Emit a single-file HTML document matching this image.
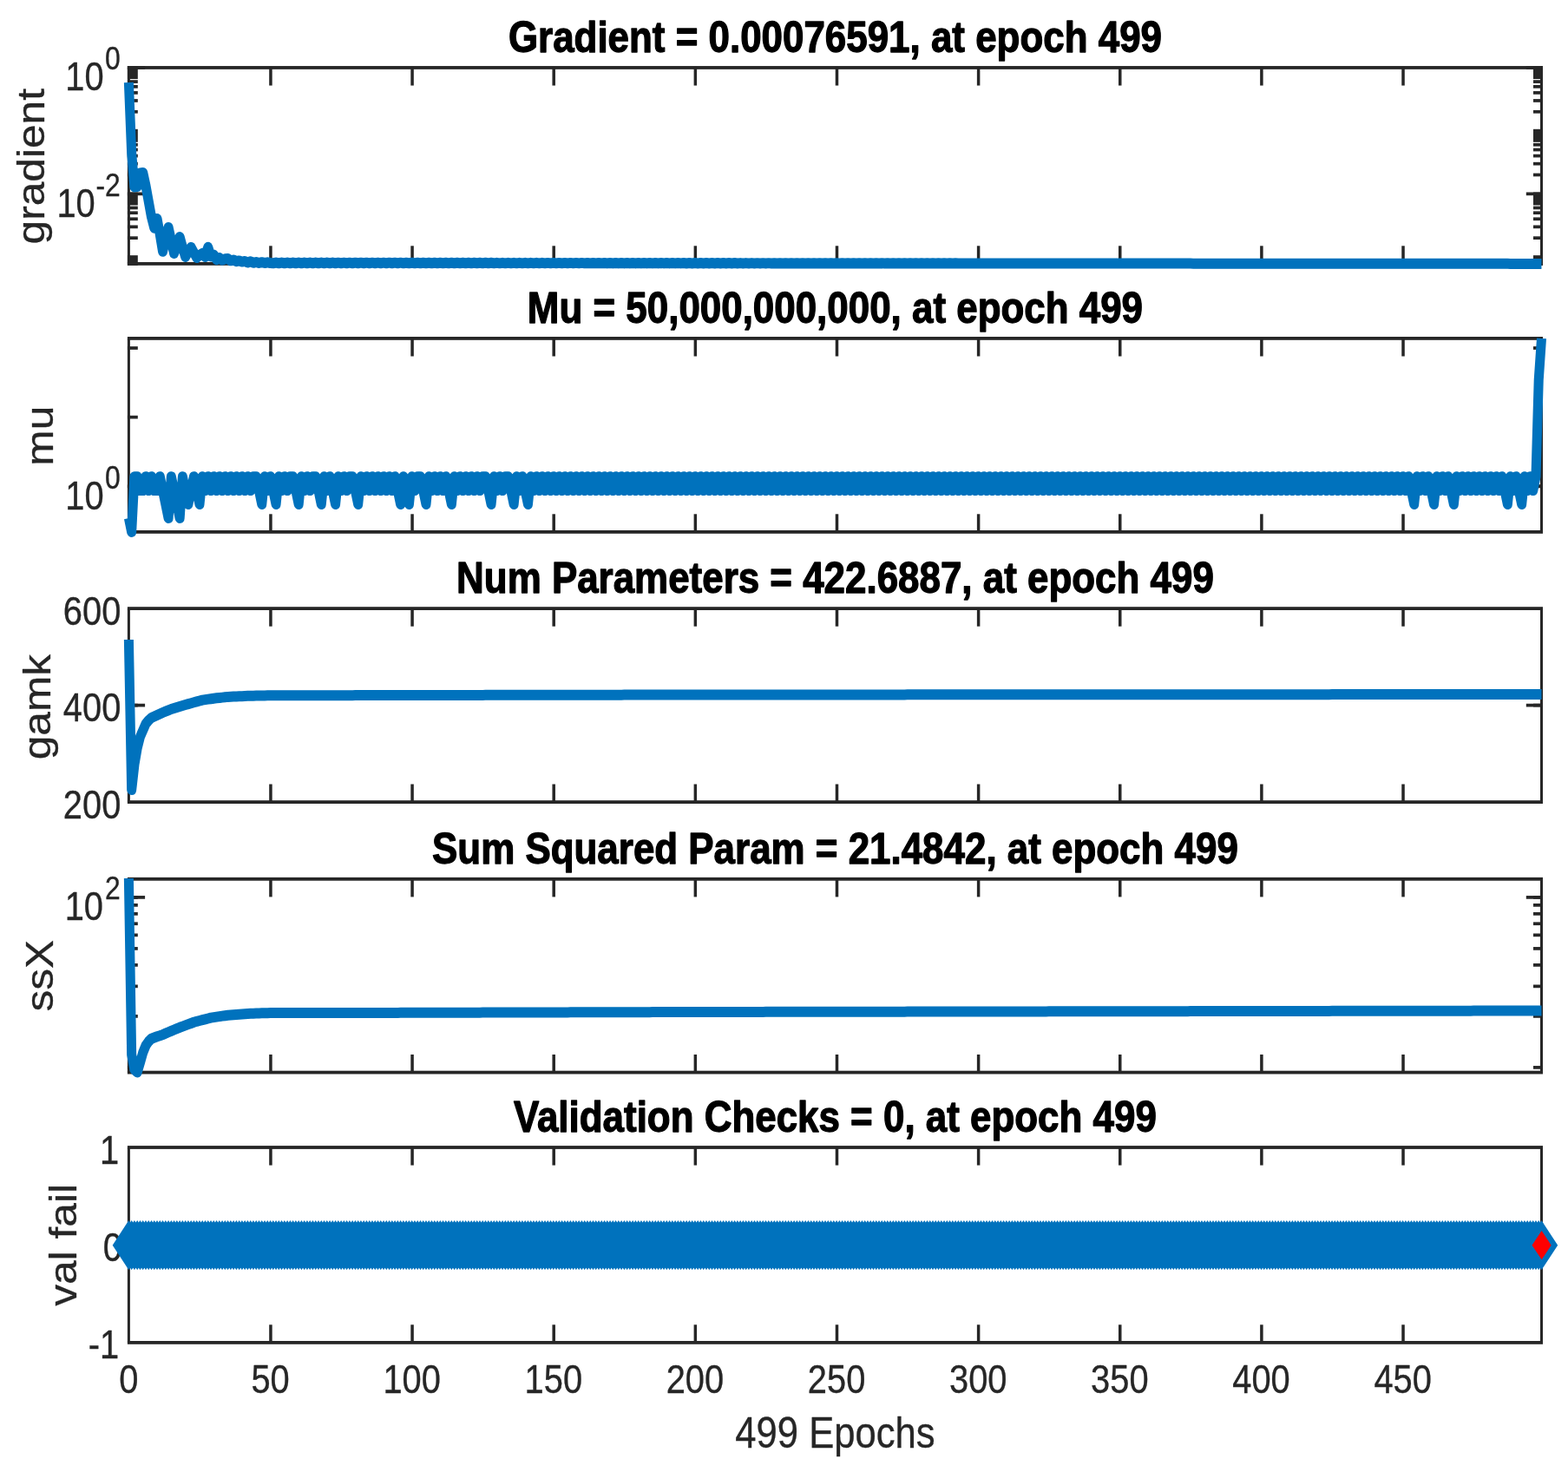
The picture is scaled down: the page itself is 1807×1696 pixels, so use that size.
<!DOCTYPE html>
<html lang="en">
<head>
<meta charset="utf-8">
<title>Training State</title>
<style>
html,body{margin:0;padding:0;background:#fff;}
body{width:1807px;height:1696px;overflow:hidden;font-family:"Liberation Sans",Arial,Helvetica,sans-serif;}
svg{display:block;}
</style>
</head>
<body>
<svg width="1807" height="1696" viewBox="0 0 1807 1696" font-family="'Liberation Sans', Arial, Helvetica, sans-serif">
<rect width="1807" height="1696" fill="#fff"/>
<rect x="146.90" y="76.05" width="1631.10" height="3.80" fill="#262626"/>
<rect x="146.90" y="302.00" width="1631.10" height="3.80" fill="#262626"/>
<rect x="146.90" y="77.95" width="3.00" height="225.95" fill="#262626"/>
<rect x="1775.00" y="77.95" width="3.00" height="225.95" fill="#262626"/>
<rect x="310.19" y="77.95" width="3.50" height="20.60" fill="#262626"/>
<rect x="310.19" y="283.30" width="3.50" height="20.60" fill="#262626"/>
<rect x="473.32" y="77.95" width="3.50" height="20.60" fill="#262626"/>
<rect x="473.32" y="283.30" width="3.50" height="20.60" fill="#262626"/>
<rect x="636.46" y="77.95" width="3.50" height="20.60" fill="#262626"/>
<rect x="636.46" y="283.30" width="3.50" height="20.60" fill="#262626"/>
<rect x="799.60" y="77.95" width="3.50" height="20.60" fill="#262626"/>
<rect x="799.60" y="283.30" width="3.50" height="20.60" fill="#262626"/>
<rect x="962.73" y="77.95" width="3.50" height="20.60" fill="#262626"/>
<rect x="962.73" y="283.30" width="3.50" height="20.60" fill="#262626"/>
<rect x="1125.87" y="77.95" width="3.50" height="20.60" fill="#262626"/>
<rect x="1125.87" y="283.30" width="3.50" height="20.60" fill="#262626"/>
<rect x="1289.00" y="77.95" width="3.50" height="20.60" fill="#262626"/>
<rect x="1289.00" y="283.30" width="3.50" height="20.60" fill="#262626"/>
<rect x="1452.14" y="77.95" width="3.50" height="20.60" fill="#262626"/>
<rect x="1452.14" y="283.30" width="3.50" height="20.60" fill="#262626"/>
<rect x="1615.28" y="77.95" width="3.50" height="20.60" fill="#262626"/>
<rect x="1615.28" y="283.30" width="3.50" height="20.60" fill="#262626"/>
<rect x="146.90" y="76.05" width="11.90" height="15.01" fill="#262626"/>
<rect x="1767.00" y="76.05" width="11.00" height="15.01" fill="#262626"/>
<rect x="146.90" y="92.23" width="11.90" height="3.70" fill="#262626"/>
<rect x="1767.00" y="92.23" width="11.00" height="3.70" fill="#262626"/>
<rect x="146.90" y="97.98" width="11.90" height="3.70" fill="#262626"/>
<rect x="1767.00" y="97.98" width="11.00" height="3.70" fill="#262626"/>
<rect x="146.90" y="105.03" width="11.90" height="3.70" fill="#262626"/>
<rect x="1767.00" y="105.03" width="11.00" height="3.70" fill="#262626"/>
<rect x="146.90" y="114.11" width="11.90" height="3.70" fill="#262626"/>
<rect x="1767.00" y="114.11" width="11.00" height="3.70" fill="#262626"/>
<rect x="146.90" y="126.92" width="11.90" height="3.70" fill="#262626"/>
<rect x="1767.00" y="126.92" width="11.00" height="3.70" fill="#262626"/>
<rect x="146.90" y="148.80" width="11.90" height="14.96" fill="#262626"/>
<rect x="1767.00" y="148.80" width="11.00" height="14.96" fill="#262626"/>
<rect x="146.90" y="164.93" width="11.90" height="3.70" fill="#262626"/>
<rect x="1767.00" y="164.93" width="11.00" height="3.70" fill="#262626"/>
<rect x="146.90" y="170.68" width="11.90" height="3.70" fill="#262626"/>
<rect x="1767.00" y="170.68" width="11.00" height="3.70" fill="#262626"/>
<rect x="146.90" y="177.73" width="11.90" height="3.70" fill="#262626"/>
<rect x="1767.00" y="177.73" width="11.00" height="3.70" fill="#262626"/>
<rect x="146.90" y="186.81" width="11.90" height="3.70" fill="#262626"/>
<rect x="1767.00" y="186.81" width="11.00" height="3.70" fill="#262626"/>
<rect x="146.90" y="199.62" width="11.90" height="3.70" fill="#262626"/>
<rect x="1767.00" y="199.62" width="11.00" height="3.70" fill="#262626"/>
<rect x="146.90" y="221.50" width="11.90" height="14.96" fill="#262626"/>
<rect x="1767.00" y="221.50" width="11.00" height="14.96" fill="#262626"/>
<rect x="146.90" y="237.63" width="11.90" height="3.70" fill="#262626"/>
<rect x="1767.00" y="237.63" width="11.00" height="3.70" fill="#262626"/>
<rect x="146.90" y="243.38" width="11.90" height="3.70" fill="#262626"/>
<rect x="1767.00" y="243.38" width="11.00" height="3.70" fill="#262626"/>
<rect x="146.90" y="250.43" width="11.90" height="3.70" fill="#262626"/>
<rect x="1767.00" y="250.43" width="11.00" height="3.70" fill="#262626"/>
<rect x="146.90" y="259.51" width="11.90" height="3.70" fill="#262626"/>
<rect x="1767.00" y="259.51" width="11.00" height="3.70" fill="#262626"/>
<rect x="146.90" y="272.32" width="11.90" height="3.70" fill="#262626"/>
<rect x="1767.00" y="272.32" width="11.00" height="3.70" fill="#262626"/>
<rect x="146.90" y="294.20" width="11.90" height="11.60" fill="#262626"/>
<rect x="1767.00" y="294.20" width="11.00" height="11.60" fill="#262626"/>
<rect x="146.90" y="76.10" width="20.20" height="3.70" fill="#262626"/>
<rect x="1758.80" y="76.10" width="19.20" height="3.70" fill="#262626"/>
<rect x="146.90" y="221.50" width="20.20" height="3.70" fill="#262626"/>
<rect x="1758.80" y="221.50" width="19.20" height="3.70" fill="#262626"/>
<text transform="translate(138.80 103.75) scale(0.8605 1)" font-size="46.3" text-anchor="end" fill="#262626" stroke="#262626" stroke-width="0.35" stroke-linejoin="round">10<tspan font-size="37" dx="1.73" dy="-23.6">0</tspan></text>
<text transform="translate(138.80 249.75) scale(0.8605 1)" font-size="46.3" text-anchor="end" fill="#262626" stroke="#262626" stroke-width="0.35" stroke-linejoin="round">10<tspan font-size="37" dx="0.92" dy="-23.6">-2</tspan></text>
<text transform="translate(51.20 191.72) scale(0.8780 1) rotate(-90)" font-size="49.7" text-anchor="middle" fill="#262626" stroke="#262626" stroke-width="0.35" stroke-linejoin="round">gradient</text>
<text transform="translate(962.45 59.85) scale(0.8875 1)" font-size="49.5" text-anchor="middle" font-weight="bold" fill="#000" stroke="#000" stroke-width="1.3" stroke-linejoin="round">Gradient = 0.00076591, at epoch 499</text>
<rect x="146.90" y="388.00" width="1631.10" height="3.80" fill="#262626"/>
<rect x="146.90" y="611.00" width="1631.10" height="3.80" fill="#262626"/>
<rect x="146.90" y="389.90" width="3.00" height="223.00" fill="#262626"/>
<rect x="1775.00" y="389.90" width="3.00" height="223.00" fill="#262626"/>
<rect x="310.19" y="389.90" width="3.50" height="20.60" fill="#262626"/>
<rect x="310.19" y="592.30" width="3.50" height="20.60" fill="#262626"/>
<rect x="473.32" y="389.90" width="3.50" height="20.60" fill="#262626"/>
<rect x="473.32" y="592.30" width="3.50" height="20.60" fill="#262626"/>
<rect x="636.46" y="389.90" width="3.50" height="20.60" fill="#262626"/>
<rect x="636.46" y="592.30" width="3.50" height="20.60" fill="#262626"/>
<rect x="799.60" y="389.90" width="3.50" height="20.60" fill="#262626"/>
<rect x="799.60" y="592.30" width="3.50" height="20.60" fill="#262626"/>
<rect x="962.73" y="389.90" width="3.50" height="20.60" fill="#262626"/>
<rect x="962.73" y="592.30" width="3.50" height="20.60" fill="#262626"/>
<rect x="1125.87" y="389.90" width="3.50" height="20.60" fill="#262626"/>
<rect x="1125.87" y="592.30" width="3.50" height="20.60" fill="#262626"/>
<rect x="1289.00" y="389.90" width="3.50" height="20.60" fill="#262626"/>
<rect x="1289.00" y="592.30" width="3.50" height="20.60" fill="#262626"/>
<rect x="1452.14" y="389.90" width="3.50" height="20.60" fill="#262626"/>
<rect x="1452.14" y="592.30" width="3.50" height="20.60" fill="#262626"/>
<rect x="1615.28" y="389.90" width="3.50" height="20.60" fill="#262626"/>
<rect x="1615.28" y="592.30" width="3.50" height="20.60" fill="#262626"/>
<rect x="146.90" y="399.15" width="11.90" height="3.70" fill="#262626"/>
<rect x="1767.00" y="399.15" width="11.00" height="3.70" fill="#262626"/>
<rect x="146.90" y="478.80" width="11.90" height="3.70" fill="#262626"/>
<rect x="1767.00" y="478.80" width="11.00" height="3.70" fill="#262626"/>
<rect x="146.90" y="558.45" width="11.90" height="3.70" fill="#262626"/>
<rect x="1767.00" y="558.45" width="11.00" height="3.70" fill="#262626"/>
<rect x="146.90" y="558.45" width="20.20" height="3.70" fill="#262626"/>
<rect x="1758.80" y="558.45" width="19.20" height="3.70" fill="#262626"/>
<text transform="translate(138.80 586.90) scale(0.8605 1)" font-size="46.3" text-anchor="end" fill="#262626" stroke="#262626" stroke-width="0.35" stroke-linejoin="round">10<tspan font-size="37" dx="1.73" dy="-23.6">0</tspan></text>
<text transform="translate(61.00 502.20) scale(0.8780 1) rotate(-90)" font-size="49.7" text-anchor="middle" fill="#262626" stroke="#262626" stroke-width="0.35" stroke-linejoin="round">mu</text>
<text transform="translate(962.45 371.80) scale(0.8875 1)" font-size="49.5" text-anchor="middle" font-weight="bold" fill="#000" stroke="#000" stroke-width="1.3" stroke-linejoin="round">Mu = 50,000,000,000, at epoch 499</text>
<rect x="146.90" y="699.20" width="1631.10" height="3.80" fill="#262626"/>
<rect x="146.90" y="922.20" width="1631.10" height="3.80" fill="#262626"/>
<rect x="146.90" y="701.10" width="3.00" height="223.00" fill="#262626"/>
<rect x="1775.00" y="701.10" width="3.00" height="223.00" fill="#262626"/>
<rect x="310.19" y="701.10" width="3.50" height="20.60" fill="#262626"/>
<rect x="310.19" y="903.50" width="3.50" height="20.60" fill="#262626"/>
<rect x="473.32" y="701.10" width="3.50" height="20.60" fill="#262626"/>
<rect x="473.32" y="903.50" width="3.50" height="20.60" fill="#262626"/>
<rect x="636.46" y="701.10" width="3.50" height="20.60" fill="#262626"/>
<rect x="636.46" y="903.50" width="3.50" height="20.60" fill="#262626"/>
<rect x="799.60" y="701.10" width="3.50" height="20.60" fill="#262626"/>
<rect x="799.60" y="903.50" width="3.50" height="20.60" fill="#262626"/>
<rect x="962.73" y="701.10" width="3.50" height="20.60" fill="#262626"/>
<rect x="962.73" y="903.50" width="3.50" height="20.60" fill="#262626"/>
<rect x="1125.87" y="701.10" width="3.50" height="20.60" fill="#262626"/>
<rect x="1125.87" y="903.50" width="3.50" height="20.60" fill="#262626"/>
<rect x="1289.00" y="701.10" width="3.50" height="20.60" fill="#262626"/>
<rect x="1289.00" y="903.50" width="3.50" height="20.60" fill="#262626"/>
<rect x="1452.14" y="701.10" width="3.50" height="20.60" fill="#262626"/>
<rect x="1452.14" y="903.50" width="3.50" height="20.60" fill="#262626"/>
<rect x="1615.28" y="701.10" width="3.50" height="20.60" fill="#262626"/>
<rect x="1615.28" y="903.50" width="3.50" height="20.60" fill="#262626"/>
<rect x="146.90" y="810.75" width="11.90" height="3.70" fill="#262626"/>
<rect x="1767.00" y="810.75" width="11.00" height="3.70" fill="#262626"/>
<rect x="146.90" y="810.75" width="20.20" height="3.70" fill="#262626"/>
<rect x="1758.80" y="810.75" width="19.20" height="3.70" fill="#262626"/>
<text transform="translate(139.30 719.60) scale(0.8605 1)" font-size="46.3" text-anchor="end" fill="#262626" stroke="#262626" stroke-width="0.35" stroke-linejoin="round">600</text>
<text transform="translate(139.30 831.10) scale(0.8605 1)" font-size="46.3" text-anchor="end" fill="#262626" stroke="#262626" stroke-width="0.35" stroke-linejoin="round">400</text>
<text transform="translate(139.30 942.60) scale(0.8605 1)" font-size="46.3" text-anchor="end" fill="#262626" stroke="#262626" stroke-width="0.35" stroke-linejoin="round">200</text>
<text transform="translate(58.00 814.60) scale(0.8780 1) rotate(-90)" font-size="49.7" text-anchor="middle" fill="#262626" stroke="#262626" stroke-width="0.35" stroke-linejoin="round">gamk</text>
<text transform="translate(962.45 683.00) scale(0.8875 1)" font-size="49.5" text-anchor="middle" font-weight="bold" fill="#000" stroke="#000" stroke-width="1.3" stroke-linejoin="round">Num Parameters = 422.6887, at epoch 499</text>
<rect x="146.90" y="1010.90" width="1631.10" height="3.80" fill="#262626"/>
<rect x="146.90" y="1233.70" width="1631.10" height="3.80" fill="#262626"/>
<rect x="146.90" y="1012.80" width="3.00" height="222.80" fill="#262626"/>
<rect x="1775.00" y="1012.80" width="3.00" height="222.80" fill="#262626"/>
<rect x="310.19" y="1012.80" width="3.50" height="20.60" fill="#262626"/>
<rect x="310.19" y="1215.00" width="3.50" height="20.60" fill="#262626"/>
<rect x="473.32" y="1012.80" width="3.50" height="20.60" fill="#262626"/>
<rect x="473.32" y="1215.00" width="3.50" height="20.60" fill="#262626"/>
<rect x="636.46" y="1012.80" width="3.50" height="20.60" fill="#262626"/>
<rect x="636.46" y="1215.00" width="3.50" height="20.60" fill="#262626"/>
<rect x="799.60" y="1012.80" width="3.50" height="20.60" fill="#262626"/>
<rect x="799.60" y="1215.00" width="3.50" height="20.60" fill="#262626"/>
<rect x="962.73" y="1012.80" width="3.50" height="20.60" fill="#262626"/>
<rect x="962.73" y="1215.00" width="3.50" height="20.60" fill="#262626"/>
<rect x="1125.87" y="1012.80" width="3.50" height="20.60" fill="#262626"/>
<rect x="1125.87" y="1215.00" width="3.50" height="20.60" fill="#262626"/>
<rect x="1289.00" y="1012.80" width="3.50" height="20.60" fill="#262626"/>
<rect x="1289.00" y="1215.00" width="3.50" height="20.60" fill="#262626"/>
<rect x="1452.14" y="1012.80" width="3.50" height="20.60" fill="#262626"/>
<rect x="1452.14" y="1215.00" width="3.50" height="20.60" fill="#262626"/>
<rect x="1615.28" y="1012.80" width="3.50" height="20.60" fill="#262626"/>
<rect x="1615.28" y="1215.00" width="3.50" height="20.60" fill="#262626"/>
<rect x="146.90" y="1032.05" width="11.90" height="3.70" fill="#262626"/>
<rect x="1767.00" y="1032.05" width="11.00" height="3.70" fill="#262626"/>
<rect x="146.90" y="1041.02" width="11.90" height="3.70" fill="#262626"/>
<rect x="1767.00" y="1041.02" width="11.00" height="3.70" fill="#262626"/>
<rect x="146.90" y="1051.04" width="11.90" height="3.70" fill="#262626"/>
<rect x="1767.00" y="1051.04" width="11.00" height="3.70" fill="#262626"/>
<rect x="146.90" y="1062.41" width="11.90" height="3.70" fill="#262626"/>
<rect x="1767.00" y="1062.41" width="11.00" height="3.70" fill="#262626"/>
<rect x="146.90" y="1075.53" width="11.90" height="3.70" fill="#262626"/>
<rect x="1767.00" y="1075.53" width="11.00" height="3.70" fill="#262626"/>
<rect x="146.90" y="1091.05" width="11.90" height="3.70" fill="#262626"/>
<rect x="1767.00" y="1091.05" width="11.00" height="3.70" fill="#262626"/>
<rect x="146.90" y="1110.05" width="11.90" height="3.70" fill="#262626"/>
<rect x="1767.00" y="1110.05" width="11.00" height="3.70" fill="#262626"/>
<rect x="146.90" y="1134.53" width="11.90" height="3.70" fill="#262626"/>
<rect x="1767.00" y="1134.53" width="11.00" height="3.70" fill="#262626"/>
<rect x="146.90" y="1169.05" width="11.90" height="3.70" fill="#262626"/>
<rect x="1767.00" y="1169.05" width="11.00" height="3.70" fill="#262626"/>
<rect x="146.90" y="1228.05" width="11.90" height="3.70" fill="#262626"/>
<rect x="1767.00" y="1228.05" width="11.00" height="3.70" fill="#262626"/>
<rect x="146.90" y="1032.05" width="20.20" height="3.70" fill="#262626"/>
<rect x="1758.80" y="1032.05" width="19.20" height="3.70" fill="#262626"/>
<text transform="translate(138.80 1059.70) scale(0.8605 1)" font-size="46.3" text-anchor="end" fill="#262626" stroke="#262626" stroke-width="0.35" stroke-linejoin="round">10<tspan font-size="37" dx="2.43" dy="-23.6">2</tspan></text>
<text transform="translate(60.80 1124.20) scale(0.8780 1) rotate(-90)" font-size="49.7" text-anchor="middle" fill="#262626" stroke="#262626" stroke-width="0.35" stroke-linejoin="round">ssX</text>
<text transform="translate(962.45 994.70) scale(0.8875 1)" font-size="49.5" text-anchor="middle" font-weight="bold" fill="#000" stroke="#000" stroke-width="1.3" stroke-linejoin="round">Sum Squared Param = 21.4842, at epoch 499</text>
<rect x="146.90" y="1320.10" width="1631.10" height="3.80" fill="#262626"/>
<rect x="146.90" y="1545.00" width="1631.10" height="3.80" fill="#262626"/>
<rect x="146.90" y="1322.00" width="3.00" height="224.90" fill="#262626"/>
<rect x="1775.00" y="1322.00" width="3.00" height="224.90" fill="#262626"/>
<rect x="310.19" y="1322.00" width="3.50" height="20.60" fill="#262626"/>
<rect x="310.19" y="1526.30" width="3.50" height="20.60" fill="#262626"/>
<rect x="473.32" y="1322.00" width="3.50" height="20.60" fill="#262626"/>
<rect x="473.32" y="1526.30" width="3.50" height="20.60" fill="#262626"/>
<rect x="636.46" y="1322.00" width="3.50" height="20.60" fill="#262626"/>
<rect x="636.46" y="1526.30" width="3.50" height="20.60" fill="#262626"/>
<rect x="799.60" y="1322.00" width="3.50" height="20.60" fill="#262626"/>
<rect x="799.60" y="1526.30" width="3.50" height="20.60" fill="#262626"/>
<rect x="962.73" y="1322.00" width="3.50" height="20.60" fill="#262626"/>
<rect x="962.73" y="1526.30" width="3.50" height="20.60" fill="#262626"/>
<rect x="1125.87" y="1322.00" width="3.50" height="20.60" fill="#262626"/>
<rect x="1125.87" y="1526.30" width="3.50" height="20.60" fill="#262626"/>
<rect x="1289.00" y="1322.00" width="3.50" height="20.60" fill="#262626"/>
<rect x="1289.00" y="1526.30" width="3.50" height="20.60" fill="#262626"/>
<rect x="1452.14" y="1322.00" width="3.50" height="20.60" fill="#262626"/>
<rect x="1452.14" y="1526.30" width="3.50" height="20.60" fill="#262626"/>
<rect x="1615.28" y="1322.00" width="3.50" height="20.60" fill="#262626"/>
<rect x="1615.28" y="1526.30" width="3.50" height="20.60" fill="#262626"/>
<rect x="146.90" y="1432.60" width="11.90" height="3.70" fill="#262626"/>
<rect x="1767.00" y="1432.60" width="11.00" height="3.70" fill="#262626"/>
<rect x="146.90" y="1432.60" width="20.20" height="3.70" fill="#262626"/>
<rect x="1758.80" y="1432.60" width="19.20" height="3.70" fill="#262626"/>
<text transform="translate(137.10 1340.50) scale(0.8605 1)" font-size="46.3" text-anchor="end" fill="#262626" stroke="#262626" stroke-width="0.35" stroke-linejoin="round">1</text>
<text transform="translate(140.80 1452.95) scale(0.8605 1)" font-size="46.3" text-anchor="end" fill="#262626" stroke="#262626" stroke-width="0.35" stroke-linejoin="round">0</text>
<text transform="translate(137.10 1565.40) scale(0.8605 1)" font-size="46.3" text-anchor="end" fill="#262626" stroke="#262626" stroke-width="0.35" stroke-linejoin="round">-1</text>
<text transform="translate(88.00 1434.45) scale(0.8780 1) rotate(-90)" font-size="49.7" text-anchor="middle" fill="#262626" stroke="#262626" stroke-width="0.35" stroke-linejoin="round">val fail</text>
<text transform="translate(962.45 1303.90) scale(0.8875 1)" font-size="49.5" text-anchor="middle" font-weight="bold" fill="#000" stroke="#000" stroke-width="1.3" stroke-linejoin="round">Validation Checks = 0, at epoch 499</text>
<text transform="translate(148.40 1605.00) scale(0.8605 1)" font-size="46.3" text-anchor="middle" fill="#262626" stroke="#262626" stroke-width="0.35" stroke-linejoin="round">0</text>
<text transform="translate(311.54 1605.00) scale(0.8605 1)" font-size="46.3" text-anchor="middle" fill="#262626" stroke="#262626" stroke-width="0.35" stroke-linejoin="round">50</text>
<text transform="translate(474.67 1605.00) scale(0.8605 1)" font-size="46.3" text-anchor="middle" fill="#262626" stroke="#262626" stroke-width="0.35" stroke-linejoin="round">100</text>
<text transform="translate(637.81 1605.00) scale(0.8605 1)" font-size="46.3" text-anchor="middle" fill="#262626" stroke="#262626" stroke-width="0.35" stroke-linejoin="round">150</text>
<text transform="translate(800.95 1605.00) scale(0.8605 1)" font-size="46.3" text-anchor="middle" fill="#262626" stroke="#262626" stroke-width="0.35" stroke-linejoin="round">200</text>
<text transform="translate(964.08 1605.00) scale(0.8605 1)" font-size="46.3" text-anchor="middle" fill="#262626" stroke="#262626" stroke-width="0.35" stroke-linejoin="round">250</text>
<text transform="translate(1127.22 1605.00) scale(0.8605 1)" font-size="46.3" text-anchor="middle" fill="#262626" stroke="#262626" stroke-width="0.35" stroke-linejoin="round">300</text>
<text transform="translate(1290.35 1605.00) scale(0.8605 1)" font-size="46.3" text-anchor="middle" fill="#262626" stroke="#262626" stroke-width="0.35" stroke-linejoin="round">350</text>
<text transform="translate(1453.49 1605.00) scale(0.8605 1)" font-size="46.3" text-anchor="middle" fill="#262626" stroke="#262626" stroke-width="0.35" stroke-linejoin="round">400</text>
<text transform="translate(1616.63 1605.00) scale(0.8605 1)" font-size="46.3" text-anchor="middle" fill="#262626" stroke="#262626" stroke-width="0.35" stroke-linejoin="round">450</text>
<text transform="translate(962.45 1667.60) scale(0.8780 1)" font-size="49.7" text-anchor="middle" fill="#262626" stroke="#262626" stroke-width="0.35" stroke-linejoin="round">499 Epochs</text>
<g transform="scale(0.92 1)"><path d="M161.30,95.00 L164.85,176.50 L168.40,215.40 L171.94,215.00 L175.49,199.50 L179.04,199.00 L182.58,214.00 L186.13,232.00 L189.68,250.00 L193.22,262.70 L196.77,252.00 L200.32,270.00 L203.86,289.80 L207.41,276.00 L210.95,262.00 L214.50,277.00 L218.05,292.00 L221.59,282.00 L225.14,273.00 L228.69,285.00 L232.23,296.00 L235.78,290.00 L239.33,285.00 L242.87,291.00 L246.42,297.00 L249.97,294.00 L253.51,292.00 L257.06,296.00 L260.60,284.80 L264.15,295.50 L267.70,293.50 L271.24,299.20 L274.79,297.00 L278.34,299.60 L281.88,298.30 L285.43,298.10 L288.98,300.30 L292.52,299.50 L296.07,301.20 L299.62,300.40 L303.16,301.60 L306.71,301.00 L310.25,302.40 L313.80,301.30 L317.35,302.80 L320.89,302.00 L324.44,303.00 L327.99,302.20 L331.53,303.00 L335.08,302.30 L338.63,303.00 L342.17,303.25 L345.72,302.55 L349.27,303.25 L352.81,302.56 L356.36,303.25 L359.91,302.57 L363.45,303.26 L367.00,302.57 L370.54,303.26 L374.09,302.58 L377.64,303.26 L381.18,302.59 L384.73,303.26 L388.28,302.59 L391.82,303.26 L395.37,302.60 L398.92,303.27 L402.46,302.61 L406.01,303.27 L409.56,302.61 L413.10,303.27 L416.65,302.62 L420.19,303.27 L423.74,302.63 L427.29,303.28 L430.83,302.63 L434.38,303.28 L437.93,302.64 L441.47,303.28 L445.02,302.65 L448.57,303.28 L452.11,302.66 L455.66,303.28 L459.21,302.66 L462.75,303.29 L466.30,302.67 L469.84,303.29 L473.39,302.68 L476.94,303.29 L480.48,302.68 L484.03,303.29 L487.58,302.69 L491.12,303.29 L494.67,302.70 L498.22,303.30 L501.76,302.70 L505.31,303.30 L508.86,302.71 L512.40,303.30 L515.95,302.72 L519.49,303.30 L523.04,302.72 L526.59,303.31 L530.13,302.73 L533.68,303.31 L537.23,302.74 L540.77,303.31 L544.32,302.74 L547.87,303.31 L551.41,302.75 L554.96,303.31 L558.51,302.76 L562.05,303.32 L565.60,302.76 L569.15,303.32 L572.69,302.77 L576.24,303.32 L579.78,302.78 L583.33,303.32 L586.88,302.78 L590.42,303.32 L593.97,302.79 L597.52,303.33 L601.06,302.80 L604.61,303.33 L608.16,302.80 L611.70,303.33 L615.25,302.81 L618.80,303.33 L622.34,302.82 L625.89,303.34 L629.43,302.83 L632.98,303.34 L636.53,302.83 L640.07,303.34 L643.62,302.84 L647.17,303.34 L650.71,302.85 L654.26,303.34 L657.81,302.85 L661.35,303.35 L664.90,302.86 L668.45,303.35 L671.99,302.87 L675.54,303.35 L679.08,302.87 L682.63,303.35 L686.18,302.88 L689.72,303.35 L693.27,302.89 L696.82,303.36 L700.36,302.89 L703.91,303.36 L707.46,302.90 L711.00,303.36 L714.55,302.91 L718.10,303.36 L721.64,302.91 L725.19,303.37 L728.73,302.92 L732.28,303.37 L735.83,302.93 L739.37,303.37 L742.92,302.93 L746.47,303.37 L750.01,302.94 L753.56,303.37 L757.11,302.95 L760.65,303.38 L764.20,302.95 L767.75,303.38 L771.29,302.96 L774.84,303.38 L778.39,302.97 L781.93,303.38 L785.48,302.97 L789.02,303.38 L792.57,302.98 L796.12,303.39 L799.66,302.99 L803.21,303.39 L806.76,303.00 L810.30,303.39 L813.85,303.00 L817.40,303.39 L820.94,303.01 L824.49,303.39 L828.04,303.02 L831.58,303.40 L835.13,303.02 L838.67,303.40 L842.22,303.03 L845.77,303.40 L849.31,303.04 L852.86,303.40 L856.41,303.04 L859.95,303.41 L863.50,303.05 L867.05,303.41 L870.59,303.06 L874.14,303.41 L877.69,303.06 L881.23,303.41 L884.78,303.07 L888.32,303.41 L891.87,303.08 L895.42,303.42 L898.96,303.08 L902.51,303.42 L906.06,303.09 L909.60,303.42 L913.15,303.10 L916.70,303.42 L920.24,303.10 L923.79,303.42 L927.34,303.11 L930.88,303.43 L934.43,303.12 L937.97,303.43 L941.52,303.12 L945.07,303.43 L948.61,303.13 L952.16,303.43 L955.71,303.14 L959.25,303.44 L962.80,303.14 L966.35,303.44 L969.89,303.15 L973.44,303.44 L976.99,303.16 L980.53,303.44 L984.08,303.17 L987.63,303.44 L991.17,303.17 L994.72,303.45 L998.26,303.18 L1001.81,303.45 L1005.36,303.19 L1008.90,303.45 L1012.45,303.19 L1016.00,303.45 L1019.54,303.20 L1023.09,303.45 L1026.64,303.21 L1030.18,303.46 L1033.73,303.21 L1037.28,303.46 L1040.82,303.22 L1044.37,303.46 L1047.91,303.23 L1051.46,303.46 L1055.01,303.23 L1058.55,303.47 L1062.10,303.24 L1065.65,303.47 L1069.19,303.25 L1072.74,303.47 L1076.29,303.25 L1079.83,303.47 L1083.38,303.26 L1086.93,303.47 L1090.47,303.27 L1094.02,303.48 L1097.56,303.27 L1101.11,303.48 L1104.66,303.28 L1108.20,303.48 L1111.75,303.29 L1115.30,303.48 L1118.84,303.29 L1122.39,303.48 L1125.94,303.30 L1129.48,303.49 L1133.03,303.31 L1136.58,303.49 L1140.12,303.31 L1143.67,303.49 L1147.21,303.32 L1150.76,303.49 L1154.31,303.33 L1157.85,303.50 L1161.40,303.34 L1164.95,303.50 L1168.49,303.34 L1172.04,303.50 L1175.59,303.35 L1179.13,303.50 L1182.68,303.36 L1186.23,303.50 L1189.77,303.36 L1193.32,303.51 L1196.87,303.37 L1200.41,303.51 L1203.96,303.38 L1207.50,303.51 L1211.05,303.38 L1214.60,303.51 L1218.14,303.39 L1221.69,303.51 L1225.24,303.40 L1228.78,303.52 L1232.33,303.40 L1235.88,303.52 L1239.42,303.41 L1242.97,303.52 L1246.52,303.42 L1250.06,303.52 L1253.61,303.42 L1257.15,303.52 L1260.70,303.43 L1264.25,303.53 L1267.79,303.44 L1271.34,303.53 L1274.89,303.44 L1278.43,303.53 L1281.98,303.45 L1285.53,303.53 L1289.07,303.46 L1292.62,303.54 L1296.17,303.46 L1299.71,303.54 L1303.26,303.47 L1306.80,303.54 L1310.35,303.48 L1313.90,303.54 L1317.44,303.48 L1320.99,303.54 L1324.54,303.49 L1328.08,303.55 L1331.63,303.50 L1335.18,303.55 L1338.72,303.51 L1342.27,303.55 L1345.82,303.51 L1349.36,303.55 L1352.91,303.52 L1356.45,303.55 L1360.00,303.53 L1363.55,303.56 L1367.09,303.53 L1370.64,303.56 L1374.19,303.54 L1377.73,303.56 L1381.28,303.55 L1384.83,303.56 L1388.37,303.55 L1391.92,303.57 L1395.47,303.56 L1399.01,303.57 L1402.56,303.57 L1406.11,303.57 L1409.65,303.57 L1413.20,303.57 L1416.74,303.58 L1420.29,303.58 L1423.84,303.58 L1427.38,303.58 L1430.93,303.59 L1434.48,303.59 L1438.02,303.59 L1441.57,303.59 L1445.12,303.59 L1448.66,303.60 L1452.21,303.60 L1455.76,303.60 L1459.30,303.60 L1462.85,303.61 L1466.39,303.61 L1469.94,303.61 L1473.49,303.61 L1477.03,303.61 L1480.58,303.62 L1484.13,303.62 L1487.67,303.62 L1491.22,303.62 L1494.77,303.63 L1498.31,303.63 L1501.86,303.63 L1505.41,303.63 L1508.95,303.63 L1512.50,303.64 L1516.04,303.64 L1519.59,303.64 L1523.14,303.64 L1526.68,303.65 L1530.23,303.65 L1533.78,303.65 L1537.32,303.65 L1540.87,303.65 L1544.42,303.66 L1547.96,303.66 L1551.51,303.66 L1555.06,303.66 L1558.60,303.67 L1562.15,303.67 L1565.69,303.67 L1569.24,303.67 L1572.79,303.67 L1576.33,303.68 L1579.88,303.68 L1583.43,303.68 L1586.97,303.68 L1590.52,303.69 L1594.07,303.69 L1597.61,303.69 L1601.16,303.69 L1604.71,303.69 L1608.25,303.70 L1611.80,303.70 L1615.35,303.70 L1618.89,303.70 L1622.44,303.71 L1625.98,303.71 L1629.53,303.71 L1633.08,303.71 L1636.62,303.71 L1640.17,303.72 L1643.72,303.72 L1647.26,303.72 L1650.81,303.72 L1654.36,303.73 L1657.90,303.73 L1661.45,303.73 L1665.00,303.73 L1668.54,303.73 L1672.09,303.74 L1675.63,303.74 L1679.18,303.74 L1682.73,303.74 L1686.27,303.75 L1689.82,303.75 L1693.37,303.75 L1696.91,303.75 L1700.46,303.75 L1704.01,303.76 L1707.55,303.76 L1711.10,303.76 L1714.65,303.76 L1718.19,303.77 L1721.74,303.77 L1725.28,303.77 L1728.83,303.77 L1732.38,303.77 L1735.92,303.78 L1739.47,303.78 L1743.02,303.78 L1746.56,303.78 L1750.11,303.79 L1753.66,303.79 L1757.20,303.79 L1760.75,303.79 L1764.30,303.80 L1767.84,303.80 L1771.39,303.80 L1774.93,303.80 L1778.48,303.80 L1782.03,303.81 L1785.57,303.81 L1789.12,303.81 L1792.67,303.81 L1796.21,303.82 L1799.76,303.82 L1803.31,303.82 L1806.85,303.82 L1810.40,303.82 L1813.95,303.83 L1817.49,303.83 L1821.04,303.83 L1824.59,303.83 L1828.13,303.84 L1831.68,303.84 L1835.22,303.84 L1838.77,303.84 L1842.32,303.84 L1845.86,303.85 L1849.41,303.85 L1852.96,303.85 L1856.50,303.85 L1860.05,303.86 L1863.60,303.86 L1867.14,303.86 L1870.69,303.86 L1874.24,303.86 L1877.78,303.87 L1881.33,303.87 L1884.87,303.87 L1888.42,303.87 L1891.97,303.88 L1895.51,303.88 L1899.06,303.88 L1902.61,303.88 L1906.15,303.88 L1909.70,303.89 L1913.25,303.89 L1916.79,303.89 L1920.34,303.89 L1923.89,303.90 L1927.43,303.90 L1930.98,303.95" fill="none" stroke="#0072BD" stroke-width="12.0" stroke-linejoin="round" stroke-linecap="butt"/></g>
<g transform="scale(0.92 1)"><path d="M161.30,596.96 L164.85,612.89 L168.40,549.17 L171.94,549.17 L175.49,565.10 L179.04,565.10 L182.58,549.17 L186.13,565.10 L189.68,549.17 L193.22,565.10 L196.77,565.10 L200.32,549.17 L203.86,565.10 L207.41,581.03 L210.95,596.96 L214.50,549.17 L218.05,565.10 L221.59,581.03 L225.14,596.96 L228.69,549.17 L232.23,565.10 L235.78,581.03 L239.33,565.10 L242.87,549.17 L246.42,565.10 L249.97,581.03 L253.51,549.17 L257.06,565.10 L260.60,549.17 L264.15,565.10 L267.70,549.17 L271.24,565.10 L274.79,549.17 L278.34,565.10 L281.88,549.17 L285.43,565.10 L288.98,549.17 L292.52,565.10 L296.07,549.17 L299.62,565.10 L303.16,549.17 L306.71,565.10 L310.25,549.17 L313.80,565.10 L317.35,549.17 L320.89,549.17 L324.44,565.10 L327.99,581.03 L331.53,549.17 L335.08,565.10 L338.63,549.17 L342.17,565.10 L345.72,581.03 L349.27,549.17 L352.81,565.10 L356.36,549.17 L359.91,565.10 L363.45,549.17 L367.00,549.17 L370.54,565.10 L374.09,581.03 L377.64,549.17 L381.18,565.10 L384.73,549.17 L388.28,565.10 L391.82,549.17 L395.37,549.17 L398.92,565.10 L402.46,581.03 L406.01,549.17 L409.56,565.10 L413.10,549.17 L416.65,565.10 L420.19,581.03 L423.74,549.17 L427.29,565.10 L430.83,549.17 L434.38,565.10 L437.93,549.17 L441.47,549.17 L445.02,565.10 L448.57,581.03 L452.11,549.17 L455.66,565.10 L459.21,549.17 L462.75,565.10 L466.30,549.17 L469.84,565.10 L473.39,549.17 L476.94,565.10 L480.48,549.17 L484.03,565.10 L487.58,549.17 L491.12,565.10 L494.67,549.17 L498.22,565.10 L501.76,581.03 L505.31,549.17 L508.86,565.10 L512.40,581.03 L515.95,549.17 L519.49,565.10 L523.04,549.17 L526.59,549.17 L530.13,565.10 L533.68,581.03 L537.23,549.17 L540.77,565.10 L544.32,549.17 L547.87,565.10 L551.41,549.17 L554.96,565.10 L558.51,549.17 L562.05,565.10 L565.60,581.03 L569.15,549.17 L572.69,565.10 L576.24,549.17 L579.78,565.10 L583.33,549.17 L586.88,565.10 L590.42,549.17 L593.97,565.10 L597.52,549.17 L601.06,565.10 L604.61,549.17 L608.16,549.17 L611.70,565.10 L615.25,581.03 L618.80,549.17 L622.34,565.10 L625.89,549.17 L629.43,565.10 L632.98,549.17 L636.53,549.17 L640.07,565.10 L643.62,581.03 L647.17,549.17 L650.71,565.10 L654.26,549.17 L657.81,565.10 L661.35,581.03 L664.90,549.17 L668.45,565.10 L671.99,549.17 L675.54,565.10 L679.08,549.17 L682.63,565.10 L686.18,549.17 L689.72,565.10 L693.27,549.17 L696.82,565.10 L700.36,549.17 L703.91,565.10 L707.46,549.17 L711.00,565.10 L714.55,549.17 L718.10,565.10 L721.64,549.17 L725.19,565.10 L728.73,549.17 L732.28,565.10 L735.83,549.17 L739.37,565.10 L742.92,549.17 L746.47,565.10 L750.01,549.17 L753.56,565.10 L757.11,549.17 L760.65,565.10 L764.20,549.17 L767.75,565.10 L771.29,549.17 L774.84,565.10 L778.39,549.17 L781.93,565.10 L785.48,549.17 L789.02,565.10 L792.57,549.17 L796.12,565.10 L799.66,549.17 L803.21,565.10 L806.76,549.17 L810.30,565.10 L813.85,549.17 L817.40,565.10 L820.94,549.17 L824.49,565.10 L828.04,549.17 L831.58,565.10 L835.13,549.17 L838.67,565.10 L842.22,549.17 L845.77,565.10 L849.31,549.17 L852.86,565.10 L856.41,549.17 L859.95,565.10 L863.50,549.17 L867.05,565.10 L870.59,549.17 L874.14,565.10 L877.69,549.17 L881.23,565.10 L884.78,549.17 L888.32,565.10 L891.87,549.17 L895.42,565.10 L898.96,549.17 L902.51,565.10 L906.06,549.17 L909.60,565.10 L913.15,549.17 L916.70,565.10 L920.24,549.17 L923.79,565.10 L927.34,549.17 L930.88,565.10 L934.43,549.17 L937.97,565.10 L941.52,549.17 L945.07,565.10 L948.61,549.17 L952.16,565.10 L955.71,549.17 L959.25,565.10 L962.80,549.17 L966.35,565.10 L969.89,549.17 L973.44,565.10 L976.99,549.17 L980.53,565.10 L984.08,549.17 L987.63,565.10 L991.17,549.17 L994.72,565.10 L998.26,549.17 L1001.81,565.10 L1005.36,549.17 L1008.90,565.10 L1012.45,549.17 L1016.00,565.10 L1019.54,549.17 L1023.09,565.10 L1026.64,549.17 L1030.18,565.10 L1033.73,549.17 L1037.28,565.10 L1040.82,549.17 L1044.37,565.10 L1047.91,549.17 L1051.46,565.10 L1055.01,549.17 L1058.55,565.10 L1062.10,549.17 L1065.65,565.10 L1069.19,549.17 L1072.74,565.10 L1076.29,549.17 L1079.83,565.10 L1083.38,549.17 L1086.93,565.10 L1090.47,549.17 L1094.02,565.10 L1097.56,549.17 L1101.11,565.10 L1104.66,549.17 L1108.20,565.10 L1111.75,549.17 L1115.30,565.10 L1118.84,549.17 L1122.39,565.10 L1125.94,549.17 L1129.48,565.10 L1133.03,549.17 L1136.58,565.10 L1140.12,549.17 L1143.67,565.10 L1147.21,549.17 L1150.76,565.10 L1154.31,549.17 L1157.85,565.10 L1161.40,549.17 L1164.95,565.10 L1168.49,549.17 L1172.04,565.10 L1175.59,549.17 L1179.13,565.10 L1182.68,549.17 L1186.23,565.10 L1189.77,549.17 L1193.32,565.10 L1196.87,549.17 L1200.41,565.10 L1203.96,549.17 L1207.50,565.10 L1211.05,549.17 L1214.60,565.10 L1218.14,549.17 L1221.69,565.10 L1225.24,549.17 L1228.78,565.10 L1232.33,549.17 L1235.88,565.10 L1239.42,549.17 L1242.97,565.10 L1246.52,549.17 L1250.06,565.10 L1253.61,549.17 L1257.15,565.10 L1260.70,549.17 L1264.25,565.10 L1267.79,549.17 L1271.34,565.10 L1274.89,549.17 L1278.43,565.10 L1281.98,549.17 L1285.53,565.10 L1289.07,549.17 L1292.62,565.10 L1296.17,549.17 L1299.71,565.10 L1303.26,549.17 L1306.80,565.10 L1310.35,549.17 L1313.90,565.10 L1317.44,549.17 L1320.99,565.10 L1324.54,549.17 L1328.08,565.10 L1331.63,549.17 L1335.18,565.10 L1338.72,549.17 L1342.27,565.10 L1345.82,549.17 L1349.36,565.10 L1352.91,549.17 L1356.45,565.10 L1360.00,549.17 L1363.55,565.10 L1367.09,549.17 L1370.64,565.10 L1374.19,549.17 L1377.73,565.10 L1381.28,549.17 L1384.83,565.10 L1388.37,549.17 L1391.92,565.10 L1395.47,549.17 L1399.01,565.10 L1402.56,549.17 L1406.11,565.10 L1409.65,549.17 L1413.20,565.10 L1416.74,549.17 L1420.29,565.10 L1423.84,549.17 L1427.38,565.10 L1430.93,549.17 L1434.48,565.10 L1438.02,549.17 L1441.57,565.10 L1445.12,549.17 L1448.66,565.10 L1452.21,549.17 L1455.76,565.10 L1459.30,549.17 L1462.85,565.10 L1466.39,549.17 L1469.94,565.10 L1473.49,549.17 L1477.03,565.10 L1480.58,549.17 L1484.13,565.10 L1487.67,549.17 L1491.22,565.10 L1494.77,549.17 L1498.31,565.10 L1501.86,549.17 L1505.41,565.10 L1508.95,549.17 L1512.50,565.10 L1516.04,549.17 L1519.59,565.10 L1523.14,549.17 L1526.68,565.10 L1530.23,549.17 L1533.78,565.10 L1537.32,549.17 L1540.87,565.10 L1544.42,549.17 L1547.96,565.10 L1551.51,549.17 L1555.06,565.10 L1558.60,549.17 L1562.15,565.10 L1565.69,549.17 L1569.24,565.10 L1572.79,549.17 L1576.33,565.10 L1579.88,549.17 L1583.43,565.10 L1586.97,549.17 L1590.52,565.10 L1594.07,549.17 L1597.61,565.10 L1601.16,549.17 L1604.71,565.10 L1608.25,549.17 L1611.80,565.10 L1615.35,549.17 L1618.89,565.10 L1622.44,549.17 L1625.98,565.10 L1629.53,549.17 L1633.08,565.10 L1636.62,549.17 L1640.17,565.10 L1643.72,549.17 L1647.26,565.10 L1650.81,549.17 L1654.36,565.10 L1657.90,549.17 L1661.45,565.10 L1665.00,549.17 L1668.54,565.10 L1672.09,549.17 L1675.63,565.10 L1679.18,549.17 L1682.73,565.10 L1686.27,549.17 L1689.82,565.10 L1693.37,549.17 L1696.91,565.10 L1700.46,549.17 L1704.01,565.10 L1707.55,549.17 L1711.10,565.10 L1714.65,549.17 L1718.19,565.10 L1721.74,549.17 L1725.28,565.10 L1728.83,549.17 L1732.38,565.10 L1735.92,549.17 L1739.47,565.10 L1743.02,549.17 L1746.56,565.10 L1750.11,549.17 L1753.66,565.10 L1757.20,549.17 L1760.75,565.10 L1764.30,549.17 L1767.84,565.10 L1771.39,581.03 L1774.93,549.17 L1778.48,565.10 L1782.03,549.17 L1785.57,565.10 L1789.12,549.17 L1792.67,565.10 L1796.21,581.03 L1799.76,549.17 L1803.31,565.10 L1806.85,549.17 L1810.40,565.10 L1813.95,549.17 L1817.49,565.10 L1821.04,581.03 L1824.59,549.17 L1828.13,565.10 L1831.68,549.17 L1835.22,565.10 L1838.77,549.17 L1842.32,565.10 L1845.86,549.17 L1849.41,565.10 L1852.96,549.17 L1856.50,565.10 L1860.05,549.17 L1863.60,565.10 L1867.14,549.17 L1870.69,565.10 L1874.24,549.17 L1877.78,565.10 L1881.33,549.17 L1884.87,565.10 L1888.42,581.03 L1891.97,549.17 L1895.51,565.10 L1899.06,549.17 L1902.61,565.10 L1906.15,581.03 L1909.70,549.17 L1913.25,565.10 L1916.79,549.17 L1920.34,565.10 L1923.89,549.17 L1927.43,437.66 L1930.98,389.87" fill="none" stroke="#0072BD" stroke-width="12.0" stroke-linejoin="round" stroke-linecap="butt"/></g>
<g transform="scale(0.92 1)"><path d="M161.30,737.00 L164.85,910.00 L168.40,881.00 L171.94,862.00 L175.49,849.00 L179.04,841.50 L182.58,834.00 L186.13,830.00 L189.68,827.00 L193.22,825.50 L196.77,824.00 L200.32,822.50 L203.86,821.00 L207.41,819.67 L210.95,818.33 L214.50,817.00 L218.05,815.96 L221.59,814.92 L225.14,813.92 L228.69,812.96 L232.23,812.00 L235.78,811.10 L239.33,810.20 L242.87,809.30 L246.42,808.40 L249.97,807.50 L253.51,806.60 L257.06,806.12 L260.60,805.65 L264.15,805.18 L267.70,804.70 L271.24,804.34 L274.79,803.98 L278.34,803.62 L281.88,803.26 L285.43,802.90 L288.98,802.75 L292.52,802.60 L296.07,802.45 L299.62,802.30 L303.16,802.15 L306.71,802.00 L310.25,801.85 L313.80,801.70 L317.35,801.64 L320.89,801.59 L324.44,801.53 L327.99,801.47 L331.53,801.41 L335.08,801.36 L338.63,801.30 L342.17,801.29 L345.72,801.29 L349.27,801.28 L352.81,801.28 L356.36,801.27 L359.91,801.26 L363.45,801.26 L367.00,801.25 L370.54,801.25 L374.09,801.24 L377.64,801.23 L381.18,801.23 L384.73,801.22 L388.28,801.22 L391.82,801.21 L395.37,801.20 L398.92,801.20 L402.46,801.19 L406.01,801.19 L409.56,801.18 L413.10,801.17 L416.65,801.17 L420.19,801.16 L423.74,801.16 L427.29,801.15 L430.83,801.14 L434.38,801.14 L437.93,801.13 L441.47,801.13 L445.02,801.12 L448.57,801.11 L452.11,801.11 L455.66,801.10 L459.21,801.10 L462.75,801.09 L466.30,801.08 L469.84,801.08 L473.39,801.07 L476.94,801.07 L480.48,801.06 L484.03,801.05 L487.58,801.05 L491.12,801.04 L494.67,801.04 L498.22,801.03 L501.76,801.02 L505.31,801.02 L508.86,801.01 L512.40,801.01 L515.95,801.00 L519.49,801.00 L523.04,800.99 L526.59,800.99 L530.13,800.98 L533.68,800.98 L537.23,800.97 L540.77,800.97 L544.32,800.96 L547.87,800.96 L551.41,800.95 L554.96,800.95 L558.51,800.94 L562.05,800.93 L565.60,800.93 L569.15,800.92 L572.69,800.92 L576.24,800.91 L579.78,800.91 L583.33,800.90 L586.88,800.90 L590.42,800.89 L593.97,800.89 L597.52,800.88 L601.06,800.88 L604.61,800.88 L608.16,800.87 L611.70,800.87 L615.25,800.86 L618.80,800.86 L622.34,800.85 L625.89,800.85 L629.43,800.84 L632.98,800.84 L636.53,800.83 L640.07,800.83 L643.62,800.82 L647.17,800.82 L650.71,800.81 L654.26,800.80 L657.81,800.80 L661.35,800.79 L664.90,800.79 L668.45,800.78 L671.99,800.78 L675.54,800.77 L679.08,800.77 L682.63,800.76 L686.18,800.76 L689.72,800.75 L693.27,800.75 L696.82,800.75 L700.36,800.74 L703.91,800.74 L707.46,800.73 L711.00,800.73 L714.55,800.72 L718.10,800.72 L721.64,800.71 L725.19,800.71 L728.73,800.70 L732.28,800.70 L735.83,800.69 L739.37,800.68 L742.92,800.68 L746.47,800.67 L750.01,800.67 L753.56,800.66 L757.11,800.66 L760.65,800.65 L764.20,800.65 L767.75,800.64 L771.29,800.64 L774.84,800.63 L778.39,800.63 L781.93,800.62 L785.48,800.62 L789.02,800.62 L792.57,800.61 L796.12,800.61 L799.66,800.60 L803.21,800.60 L806.76,800.59 L810.30,800.59 L813.85,800.58 L817.40,800.58 L820.94,800.57 L824.49,800.57 L828.04,800.56 L831.58,800.55 L835.13,800.55 L838.67,800.54 L842.22,800.54 L845.77,800.53 L849.31,800.53 L852.86,800.52 L856.41,800.52 L859.95,800.51 L863.50,800.51 L867.05,800.50 L870.59,800.50 L874.14,800.50 L877.69,800.50 L881.23,800.49 L884.78,800.49 L888.32,800.49 L891.87,800.49 L895.42,800.49 L898.96,800.49 L902.51,800.48 L906.06,800.48 L909.60,800.48 L913.15,800.48 L916.70,800.48 L920.24,800.48 L923.79,800.47 L927.34,800.47 L930.88,800.47 L934.43,800.47 L937.97,800.47 L941.52,800.47 L945.07,800.46 L948.61,800.46 L952.16,800.46 L955.71,800.46 L959.25,800.46 L962.80,800.46 L966.35,800.45 L969.89,800.45 L973.44,800.45 L976.99,800.45 L980.53,800.45 L984.08,800.45 L987.63,800.44 L991.17,800.44 L994.72,800.44 L998.26,800.44 L1001.81,800.44 L1005.36,800.44 L1008.90,800.43 L1012.45,800.43 L1016.00,800.43 L1019.54,800.43 L1023.09,800.43 L1026.64,800.43 L1030.18,800.42 L1033.73,800.42 L1037.28,800.42 L1040.82,800.42 L1044.37,800.42 L1047.91,800.42 L1051.46,800.41 L1055.01,800.41 L1058.55,800.41 L1062.10,800.41 L1065.65,800.41 L1069.19,800.41 L1072.74,800.40 L1076.29,800.40 L1079.83,800.40 L1083.38,800.40 L1086.93,800.40 L1090.47,800.40 L1094.02,800.39 L1097.56,800.39 L1101.11,800.39 L1104.66,800.39 L1108.20,800.39 L1111.75,800.39 L1115.30,800.38 L1118.84,800.38 L1122.39,800.38 L1125.94,800.38 L1129.48,800.38 L1133.03,800.38 L1136.58,800.37 L1140.12,800.37 L1143.67,800.37 L1147.21,800.37 L1150.76,800.37 L1154.31,800.37 L1157.85,800.36 L1161.40,800.36 L1164.95,800.36 L1168.49,800.36 L1172.04,800.36 L1175.59,800.36 L1179.13,800.35 L1182.68,800.35 L1186.23,800.35 L1189.77,800.35 L1193.32,800.35 L1196.87,800.35 L1200.41,800.34 L1203.96,800.34 L1207.50,800.34 L1211.05,800.34 L1214.60,800.34 L1218.14,800.34 L1221.69,800.33 L1225.24,800.33 L1228.78,800.33 L1232.33,800.33 L1235.88,800.33 L1239.42,800.33 L1242.97,800.32 L1246.52,800.32 L1250.06,800.32 L1253.61,800.32 L1257.15,800.32 L1260.70,800.32 L1264.25,800.31 L1267.79,800.31 L1271.34,800.31 L1274.89,800.31 L1278.43,800.31 L1281.98,800.31 L1285.53,800.30 L1289.07,800.30 L1292.62,800.30 L1296.17,800.30 L1299.71,800.30 L1303.26,800.30 L1306.80,800.29 L1310.35,800.29 L1313.90,800.29 L1317.44,800.29 L1320.99,800.29 L1324.54,800.29 L1328.08,800.28 L1331.63,800.28 L1335.18,800.28 L1338.72,800.28 L1342.27,800.28 L1345.82,800.28 L1349.36,800.27 L1352.91,800.27 L1356.45,800.27 L1360.00,800.27 L1363.55,800.27 L1367.09,800.27 L1370.64,800.26 L1374.19,800.26 L1377.73,800.26 L1381.28,800.26 L1384.83,800.26 L1388.37,800.26 L1391.92,800.25 L1395.47,800.25 L1399.01,800.25 L1402.56,800.25 L1406.11,800.25 L1409.65,800.25 L1413.20,800.24 L1416.74,800.24 L1420.29,800.24 L1423.84,800.24 L1427.38,800.24 L1430.93,800.24 L1434.48,800.23 L1438.02,800.23 L1441.57,800.23 L1445.12,800.23 L1448.66,800.23 L1452.21,800.23 L1455.76,800.22 L1459.30,800.22 L1462.85,800.22 L1466.39,800.22 L1469.94,800.22 L1473.49,800.22 L1477.03,800.21 L1480.58,800.21 L1484.13,800.21 L1487.67,800.21 L1491.22,800.21 L1494.77,800.21 L1498.31,800.20 L1501.86,800.20 L1505.41,800.20 L1508.95,800.20 L1512.50,800.20 L1516.04,800.20 L1519.59,800.19 L1523.14,800.19 L1526.68,800.19 L1530.23,800.19 L1533.78,800.19 L1537.32,800.19 L1540.87,800.18 L1544.42,800.18 L1547.96,800.18 L1551.51,800.18 L1555.06,800.18 L1558.60,800.18 L1562.15,800.17 L1565.69,800.17 L1569.24,800.17 L1572.79,800.17 L1576.33,800.17 L1579.88,800.17 L1583.43,800.16 L1586.97,800.16 L1590.52,800.16 L1594.07,800.16 L1597.61,800.16 L1601.16,800.16 L1604.71,800.15 L1608.25,800.15 L1611.80,800.15 L1615.35,800.15 L1618.89,800.15 L1622.44,800.15 L1625.98,800.14 L1629.53,800.14 L1633.08,800.14 L1636.62,800.14 L1640.17,800.14 L1643.72,800.14 L1647.26,800.13 L1650.81,800.13 L1654.36,800.13 L1657.90,800.13 L1661.45,800.13 L1665.00,800.13 L1668.54,800.12 L1672.09,800.12 L1675.63,800.12 L1679.18,800.12 L1682.73,800.12 L1686.27,800.12 L1689.82,800.11 L1693.37,800.11 L1696.91,800.11 L1700.46,800.11 L1704.01,800.11 L1707.55,800.11 L1711.10,800.10 L1714.65,800.10 L1718.19,800.10 L1721.74,800.10 L1725.28,800.10 L1728.83,800.10 L1732.38,800.09 L1735.92,800.09 L1739.47,800.09 L1743.02,800.09 L1746.56,800.09 L1750.11,800.09 L1753.66,800.08 L1757.20,800.08 L1760.75,800.08 L1764.30,800.08 L1767.84,800.08 L1771.39,800.08 L1774.93,800.07 L1778.48,800.07 L1782.03,800.07 L1785.57,800.07 L1789.12,800.07 L1792.67,800.07 L1796.21,800.06 L1799.76,800.06 L1803.31,800.06 L1806.85,800.06 L1810.40,800.06 L1813.95,800.06 L1817.49,800.05 L1821.04,800.05 L1824.59,800.05 L1828.13,800.05 L1831.68,800.05 L1835.22,800.05 L1838.77,800.04 L1842.32,800.04 L1845.86,800.04 L1849.41,800.04 L1852.96,800.04 L1856.50,800.04 L1860.05,800.03 L1863.60,800.03 L1867.14,800.03 L1870.69,800.03 L1874.24,800.03 L1877.78,800.03 L1881.33,800.02 L1884.87,800.02 L1888.42,800.02 L1891.97,800.02 L1895.51,800.02 L1899.06,800.02 L1902.61,800.01 L1906.15,800.01 L1909.70,800.01 L1913.25,800.01 L1916.79,800.01 L1920.34,800.01 L1923.89,800.00 L1927.43,800.00 L1930.98,800.00" fill="none" stroke="#0072BD" stroke-width="12.0" stroke-linejoin="round" stroke-linecap="butt"/></g>
<g transform="scale(0.92 1)"><path d="M161.30,1012.00 L164.85,1215.00 L168.40,1232.50 L171.94,1235.50 L175.49,1224.50 L179.04,1212.70 L182.58,1204.70 L186.13,1200.00 L189.68,1196.70 L193.22,1195.50 L196.77,1194.30 L200.32,1193.24 L203.86,1192.08 L207.41,1190.68 L210.95,1189.29 L214.50,1187.89 L218.05,1186.49 L221.59,1185.10 L225.14,1183.80 L228.69,1182.59 L232.23,1181.38 L235.78,1180.18 L239.33,1178.97 L242.87,1177.76 L246.42,1176.82 L249.97,1175.99 L253.51,1175.17 L257.06,1174.34 L260.60,1173.51 L264.15,1172.68 L267.70,1172.16 L271.24,1171.67 L274.79,1171.18 L278.34,1170.68 L281.88,1170.19 L285.43,1169.75 L288.98,1169.51 L292.52,1169.26 L296.07,1169.02 L299.62,1168.77 L303.16,1168.53 L306.71,1168.29 L310.25,1168.04 L313.80,1167.80 L317.35,1167.65 L320.89,1167.55 L324.44,1167.46 L327.99,1167.37 L331.53,1167.28 L335.08,1167.19 L338.63,1167.10 L342.17,1167.10 L345.72,1167.09 L349.27,1167.09 L352.81,1167.09 L356.36,1167.08 L359.91,1167.08 L363.45,1167.08 L367.00,1167.07 L370.54,1167.07 L374.09,1167.07 L377.64,1167.06 L381.18,1167.06 L384.73,1167.06 L388.28,1167.05 L391.82,1167.05 L395.37,1167.05 L398.92,1167.04 L402.46,1167.04 L406.01,1167.04 L409.56,1167.03 L413.10,1167.03 L416.65,1167.03 L420.19,1167.02 L423.74,1167.02 L427.29,1167.02 L430.83,1167.01 L434.38,1167.01 L437.93,1167.01 L441.47,1167.00 L445.02,1167.00 L448.57,1166.99 L452.11,1166.98 L455.66,1166.97 L459.21,1166.97 L462.75,1166.96 L466.30,1166.95 L469.84,1166.94 L473.39,1166.93 L476.94,1166.92 L480.48,1166.92 L484.03,1166.91 L487.58,1166.90 L491.12,1166.89 L494.67,1166.88 L498.22,1166.88 L501.76,1166.87 L505.31,1166.86 L508.86,1166.85 L512.40,1166.84 L515.95,1166.83 L519.49,1166.83 L523.04,1166.82 L526.59,1166.81 L530.13,1166.80 L533.68,1166.79 L537.23,1166.78 L540.77,1166.78 L544.32,1166.77 L547.87,1166.76 L551.41,1166.75 L554.96,1166.74 L558.51,1166.73 L562.05,1166.72 L565.60,1166.72 L569.15,1166.71 L572.69,1166.70 L576.24,1166.69 L579.78,1166.68 L583.33,1166.67 L586.88,1166.67 L590.42,1166.66 L593.97,1166.65 L597.52,1166.64 L601.06,1166.63 L604.61,1166.62 L608.16,1166.62 L611.70,1166.61 L615.25,1166.60 L618.80,1166.59 L622.34,1166.58 L625.89,1166.58 L629.43,1166.57 L632.98,1166.56 L636.53,1166.55 L640.07,1166.54 L643.62,1166.53 L647.17,1166.53 L650.71,1166.52 L654.26,1166.51 L657.81,1166.50 L661.35,1166.49 L664.90,1166.48 L668.45,1166.47 L671.99,1166.47 L675.54,1166.46 L679.08,1166.45 L682.63,1166.44 L686.18,1166.43 L689.72,1166.42 L693.27,1166.42 L696.82,1166.41 L700.36,1166.40 L703.91,1166.39 L707.46,1166.38 L711.00,1166.38 L714.55,1166.37 L718.10,1166.36 L721.64,1166.35 L725.19,1166.34 L728.73,1166.33 L732.28,1166.33 L735.83,1166.32 L739.37,1166.31 L742.92,1166.30 L746.47,1166.29 L750.01,1166.28 L753.56,1166.28 L757.11,1166.27 L760.65,1166.26 L764.20,1166.25 L767.75,1166.24 L771.29,1166.23 L774.84,1166.22 L778.39,1166.22 L781.93,1166.21 L785.48,1166.20 L789.02,1166.19 L792.57,1166.18 L796.12,1166.17 L799.66,1166.17 L803.21,1166.16 L806.76,1166.15 L810.30,1166.14 L813.85,1166.13 L817.40,1166.12 L820.94,1166.12 L824.49,1166.11 L828.04,1166.10 L831.58,1166.09 L835.13,1166.08 L838.67,1166.08 L842.22,1166.07 L845.77,1166.06 L849.31,1166.05 L852.86,1166.04 L856.41,1166.03 L859.95,1166.03 L863.50,1166.02 L867.05,1166.01 L870.59,1166.00 L874.14,1165.99 L877.69,1165.99 L881.23,1165.98 L884.78,1165.98 L888.32,1165.97 L891.87,1165.97 L895.42,1165.96 L898.96,1165.96 L902.51,1165.95 L906.06,1165.95 L909.60,1165.94 L913.15,1165.94 L916.70,1165.93 L920.24,1165.93 L923.79,1165.92 L927.34,1165.92 L930.88,1165.91 L934.43,1165.91 L937.97,1165.90 L941.52,1165.90 L945.07,1165.89 L948.61,1165.89 L952.16,1165.88 L955.71,1165.88 L959.25,1165.87 L962.80,1165.87 L966.35,1165.86 L969.89,1165.86 L973.44,1165.85 L976.99,1165.85 L980.53,1165.84 L984.08,1165.84 L987.63,1165.83 L991.17,1165.83 L994.72,1165.82 L998.26,1165.82 L1001.81,1165.81 L1005.36,1165.81 L1008.90,1165.80 L1012.45,1165.80 L1016.00,1165.79 L1019.54,1165.79 L1023.09,1165.78 L1026.64,1165.78 L1030.18,1165.77 L1033.73,1165.77 L1037.28,1165.76 L1040.82,1165.76 L1044.37,1165.75 L1047.91,1165.75 L1051.46,1165.74 L1055.01,1165.74 L1058.55,1165.73 L1062.10,1165.73 L1065.65,1165.72 L1069.19,1165.72 L1072.74,1165.71 L1076.29,1165.71 L1079.83,1165.70 L1083.38,1165.70 L1086.93,1165.69 L1090.47,1165.69 L1094.02,1165.68 L1097.56,1165.68 L1101.11,1165.67 L1104.66,1165.67 L1108.20,1165.66 L1111.75,1165.66 L1115.30,1165.65 L1118.84,1165.65 L1122.39,1165.64 L1125.94,1165.64 L1129.48,1165.63 L1133.03,1165.63 L1136.58,1165.62 L1140.12,1165.62 L1143.67,1165.61 L1147.21,1165.61 L1150.76,1165.60 L1154.31,1165.60 L1157.85,1165.59 L1161.40,1165.59 L1164.95,1165.58 L1168.49,1165.58 L1172.04,1165.57 L1175.59,1165.57 L1179.13,1165.56 L1182.68,1165.56 L1186.23,1165.55 L1189.77,1165.55 L1193.32,1165.54 L1196.87,1165.54 L1200.41,1165.53 L1203.96,1165.53 L1207.50,1165.52 L1211.05,1165.52 L1214.60,1165.51 L1218.14,1165.51 L1221.69,1165.50 L1225.24,1165.50 L1228.78,1165.49 L1232.33,1165.49 L1235.88,1165.48 L1239.42,1165.48 L1242.97,1165.47 L1246.52,1165.47 L1250.06,1165.46 L1253.61,1165.46 L1257.15,1165.45 L1260.70,1165.45 L1264.25,1165.44 L1267.79,1165.44 L1271.34,1165.43 L1274.89,1165.43 L1278.43,1165.42 L1281.98,1165.42 L1285.53,1165.41 L1289.07,1165.41 L1292.62,1165.40 L1296.17,1165.40 L1299.71,1165.39 L1303.26,1165.39 L1306.80,1165.38 L1310.35,1165.38 L1313.90,1165.37 L1317.44,1165.37 L1320.99,1165.36 L1324.54,1165.36 L1328.08,1165.35 L1331.63,1165.35 L1335.18,1165.34 L1338.72,1165.34 L1342.27,1165.33 L1345.82,1165.33 L1349.36,1165.32 L1352.91,1165.32 L1356.45,1165.31 L1360.00,1165.31 L1363.55,1165.30 L1367.09,1165.30 L1370.64,1165.29 L1374.19,1165.29 L1377.73,1165.28 L1381.28,1165.28 L1384.83,1165.27 L1388.37,1165.27 L1391.92,1165.26 L1395.47,1165.26 L1399.01,1165.25 L1402.56,1165.25 L1406.11,1165.24 L1409.65,1165.24 L1413.20,1165.23 L1416.74,1165.23 L1420.29,1165.22 L1423.84,1165.22 L1427.38,1165.21 L1430.93,1165.21 L1434.48,1165.20 L1438.02,1165.20 L1441.57,1165.19 L1445.12,1165.19 L1448.66,1165.18 L1452.21,1165.18 L1455.76,1165.17 L1459.30,1165.17 L1462.85,1165.16 L1466.39,1165.16 L1469.94,1165.15 L1473.49,1165.15 L1477.03,1165.14 L1480.58,1165.14 L1484.13,1165.13 L1487.67,1165.13 L1491.22,1165.12 L1494.77,1165.12 L1498.31,1165.11 L1501.86,1165.11 L1505.41,1165.10 L1508.95,1165.10 L1512.50,1165.09 L1516.04,1165.09 L1519.59,1165.08 L1523.14,1165.08 L1526.68,1165.07 L1530.23,1165.07 L1533.78,1165.06 L1537.32,1165.06 L1540.87,1165.05 L1544.42,1165.05 L1547.96,1165.04 L1551.51,1165.04 L1555.06,1165.03 L1558.60,1165.03 L1562.15,1165.02 L1565.69,1165.02 L1569.24,1165.01 L1572.79,1165.01 L1576.33,1165.00 L1579.88,1165.00 L1583.43,1164.99 L1586.97,1164.99 L1590.52,1164.98 L1594.07,1164.98 L1597.61,1164.97 L1601.16,1164.97 L1604.71,1164.96 L1608.25,1164.96 L1611.80,1164.95 L1615.35,1164.95 L1618.89,1164.94 L1622.44,1164.94 L1625.98,1164.93 L1629.53,1164.93 L1633.08,1164.92 L1636.62,1164.92 L1640.17,1164.91 L1643.72,1164.91 L1647.26,1164.90 L1650.81,1164.90 L1654.36,1164.89 L1657.90,1164.89 L1661.45,1164.88 L1665.00,1164.88 L1668.54,1164.87 L1672.09,1164.87 L1675.63,1164.86 L1679.18,1164.86 L1682.73,1164.85 L1686.27,1164.85 L1689.82,1164.84 L1693.37,1164.84 L1696.91,1164.83 L1700.46,1164.83 L1704.01,1164.82 L1707.55,1164.82 L1711.10,1164.81 L1714.65,1164.81 L1718.19,1164.80 L1721.74,1164.80 L1725.28,1164.79 L1728.83,1164.79 L1732.38,1164.78 L1735.92,1164.78 L1739.47,1164.77 L1743.02,1164.77 L1746.56,1164.76 L1750.11,1164.76 L1753.66,1164.75 L1757.20,1164.75 L1760.75,1164.74 L1764.30,1164.74 L1767.84,1164.73 L1771.39,1164.73 L1774.93,1164.72 L1778.48,1164.72 L1782.03,1164.71 L1785.57,1164.71 L1789.12,1164.70 L1792.67,1164.70 L1796.21,1164.69 L1799.76,1164.69 L1803.31,1164.68 L1806.85,1164.68 L1810.40,1164.67 L1813.95,1164.67 L1817.49,1164.66 L1821.04,1164.66 L1824.59,1164.65 L1828.13,1164.65 L1831.68,1164.64 L1835.22,1164.64 L1838.77,1164.63 L1842.32,1164.63 L1845.86,1164.62 L1849.41,1164.62 L1852.96,1164.61 L1856.50,1164.61 L1860.05,1164.60 L1863.60,1164.60 L1867.14,1164.59 L1870.69,1164.59 L1874.24,1164.58 L1877.78,1164.58 L1881.33,1164.57 L1884.87,1164.57 L1888.42,1164.56 L1891.97,1164.56 L1895.51,1164.55 L1899.06,1164.55 L1902.61,1164.54 L1906.15,1164.54 L1909.70,1164.53 L1913.25,1164.53 L1916.79,1164.52 L1920.34,1164.52 L1923.89,1164.51 L1927.43,1164.51 L1930.98,1164.50" fill="none" stroke="#0072BD" stroke-width="12.0" stroke-linejoin="round" stroke-linecap="butt"/></g>
<polygon points="129.70,1434.65 148.40,1406.10 150.03,1408.59 151.66,1406.10 153.29,1408.59 154.93,1406.10 156.56,1408.59 158.19,1406.10 159.82,1408.59 161.45,1406.10 163.08,1408.59 164.71,1406.10 166.34,1408.59 167.98,1406.10 169.61,1408.59 171.24,1406.10 172.87,1408.59 174.50,1406.10 176.13,1408.59 177.76,1406.10 179.40,1408.59 181.03,1406.10 182.66,1408.59 184.29,1406.10 185.92,1408.59 187.55,1406.10 189.18,1408.59 190.82,1406.10 192.45,1408.59 194.08,1406.10 195.71,1408.59 197.34,1406.10 198.97,1408.59 200.60,1406.10 202.23,1408.59 203.87,1406.10 205.50,1408.59 207.13,1406.10 208.76,1408.59 210.39,1406.10 212.02,1408.59 213.65,1406.10 215.29,1408.59 216.92,1406.10 218.55,1408.59 220.18,1406.10 221.81,1408.59 223.44,1406.10 225.07,1408.59 226.71,1406.10 228.34,1408.59 229.97,1406.10 231.60,1408.59 233.23,1406.10 234.86,1408.59 236.49,1406.10 238.12,1408.59 239.76,1406.10 241.39,1408.59 243.02,1406.10 244.65,1408.59 246.28,1406.10 247.91,1408.59 249.54,1406.10 251.18,1408.59 252.81,1406.10 254.44,1408.59 256.07,1406.10 257.70,1408.59 259.33,1406.10 260.96,1408.59 262.60,1406.10 264.23,1408.59 265.86,1406.10 267.49,1408.59 269.12,1406.10 270.75,1408.59 272.38,1406.10 274.01,1408.59 275.65,1406.10 277.28,1408.59 278.91,1406.10 280.54,1408.59 282.17,1406.10 283.80,1408.59 285.43,1406.10 287.07,1408.59 288.70,1406.10 290.33,1408.59 291.96,1406.10 293.59,1408.59 295.22,1406.10 296.85,1408.59 298.49,1406.10 300.12,1408.59 301.75,1406.10 303.38,1408.59 305.01,1406.10 306.64,1408.59 308.27,1406.10 309.90,1408.59 311.54,1406.10 313.17,1408.59 314.80,1406.10 316.43,1408.59 318.06,1406.10 319.69,1408.59 321.32,1406.10 322.96,1408.59 324.59,1406.10 326.22,1408.59 327.85,1406.10 329.48,1408.59 331.11,1406.10 332.74,1408.59 334.38,1406.10 336.01,1408.59 337.64,1406.10 339.27,1408.59 340.90,1406.10 342.53,1408.59 344.16,1406.10 345.79,1408.59 347.43,1406.10 349.06,1408.59 350.69,1406.10 352.32,1408.59 353.95,1406.10 355.58,1408.59 357.21,1406.10 358.85,1408.59 360.48,1406.10 362.11,1408.59 363.74,1406.10 365.37,1408.59 367.00,1406.10 368.63,1408.59 370.27,1406.10 371.90,1408.59 373.53,1406.10 375.16,1408.59 376.79,1406.10 378.42,1408.59 380.05,1406.10 381.68,1408.59 383.32,1406.10 384.95,1408.59 386.58,1406.10 388.21,1408.59 389.84,1406.10 391.47,1408.59 393.10,1406.10 394.74,1408.59 396.37,1406.10 398.00,1408.59 399.63,1406.10 401.26,1408.59 402.89,1406.10 404.52,1408.59 406.16,1406.10 407.79,1408.59 409.42,1406.10 411.05,1408.59 412.68,1406.10 414.31,1408.59 415.94,1406.10 417.57,1408.59 419.21,1406.10 420.84,1408.59 422.47,1406.10 424.10,1408.59 425.73,1406.10 427.36,1408.59 428.99,1406.10 430.63,1408.59 432.26,1406.10 433.89,1408.59 435.52,1406.10 437.15,1408.59 438.78,1406.10 440.41,1408.59 442.05,1406.10 443.68,1408.59 445.31,1406.10 446.94,1408.59 448.57,1406.10 450.20,1408.59 451.83,1406.10 453.46,1408.59 455.10,1406.10 456.73,1408.59 458.36,1406.10 459.99,1408.59 461.62,1406.10 463.25,1408.59 464.88,1406.10 466.52,1408.59 468.15,1406.10 469.78,1408.59 471.41,1406.10 473.04,1408.59 474.67,1406.10 476.30,1408.59 477.94,1406.10 479.57,1408.59 481.20,1406.10 482.83,1408.59 484.46,1406.10 486.09,1408.59 487.72,1406.10 489.35,1408.59 490.99,1406.10 492.62,1408.59 494.25,1406.10 495.88,1408.59 497.51,1406.10 499.14,1408.59 500.77,1406.10 502.41,1408.59 504.04,1406.10 505.67,1408.59 507.30,1406.10 508.93,1408.59 510.56,1406.10 512.19,1408.59 513.83,1406.10 515.46,1408.59 517.09,1406.10 518.72,1408.59 520.35,1406.10 521.98,1408.59 523.61,1406.10 525.24,1408.59 526.88,1406.10 528.51,1408.59 530.14,1406.10 531.77,1408.59 533.40,1406.10 535.03,1408.59 536.66,1406.10 538.30,1408.59 539.93,1406.10 541.56,1408.59 543.19,1406.10 544.82,1408.59 546.45,1406.10 548.08,1408.59 549.72,1406.10 551.35,1408.59 552.98,1406.10 554.61,1408.59 556.24,1406.10 557.87,1408.59 559.50,1406.10 561.13,1408.59 562.77,1406.10 564.40,1408.59 566.03,1406.10 567.66,1408.59 569.29,1406.10 570.92,1408.59 572.55,1406.10 574.19,1408.59 575.82,1406.10 577.45,1408.59 579.08,1406.10 580.71,1408.59 582.34,1406.10 583.97,1408.59 585.61,1406.10 587.24,1408.59 588.87,1406.10 590.50,1408.59 592.13,1406.10 593.76,1408.59 595.39,1406.10 597.02,1408.59 598.66,1406.10 600.29,1408.59 601.92,1406.10 603.55,1408.59 605.18,1406.10 606.81,1408.59 608.44,1406.10 610.08,1408.59 611.71,1406.10 613.34,1408.59 614.97,1406.10 616.60,1408.59 618.23,1406.10 619.86,1408.59 621.50,1406.10 623.13,1408.59 624.76,1406.10 626.39,1408.59 628.02,1406.10 629.65,1408.59 631.28,1406.10 632.91,1408.59 634.55,1406.10 636.18,1408.59 637.81,1406.10 639.44,1408.59 641.07,1406.10 642.70,1408.59 644.33,1406.10 645.97,1408.59 647.60,1406.10 649.23,1408.59 650.86,1406.10 652.49,1408.59 654.12,1406.10 655.75,1408.59 657.39,1406.10 659.02,1408.59 660.65,1406.10 662.28,1408.59 663.91,1406.10 665.54,1408.59 667.17,1406.10 668.80,1408.59 670.44,1406.10 672.07,1408.59 673.70,1406.10 675.33,1408.59 676.96,1406.10 678.59,1408.59 680.22,1406.10 681.86,1408.59 683.49,1406.10 685.12,1408.59 686.75,1406.10 688.38,1408.59 690.01,1406.10 691.64,1408.59 693.28,1406.10 694.91,1408.59 696.54,1406.10 698.17,1408.59 699.80,1406.10 701.43,1408.59 703.06,1406.10 704.69,1408.59 706.33,1406.10 707.96,1408.59 709.59,1406.10 711.22,1408.59 712.85,1406.10 714.48,1408.59 716.11,1406.10 717.75,1408.59 719.38,1406.10 721.01,1408.59 722.64,1406.10 724.27,1408.59 725.90,1406.10 727.53,1408.59 729.17,1406.10 730.80,1408.59 732.43,1406.10 734.06,1408.59 735.69,1406.10 737.32,1408.59 738.95,1406.10 740.58,1408.59 742.22,1406.10 743.85,1408.59 745.48,1406.10 747.11,1408.59 748.74,1406.10 750.37,1408.59 752.00,1406.10 753.64,1408.59 755.27,1406.10 756.90,1408.59 758.53,1406.10 760.16,1408.59 761.79,1406.10 763.42,1408.59 765.06,1406.10 766.69,1408.59 768.32,1406.10 769.95,1408.59 771.58,1406.10 773.21,1408.59 774.84,1406.10 776.47,1408.59 778.11,1406.10 779.74,1408.59 781.37,1406.10 783.00,1408.59 784.63,1406.10 786.26,1408.59 787.89,1406.10 789.53,1408.59 791.16,1406.10 792.79,1408.59 794.42,1406.10 796.05,1408.59 797.68,1406.10 799.31,1408.59 800.95,1406.10 802.58,1408.59 804.21,1406.10 805.84,1408.59 807.47,1406.10 809.10,1408.59 810.73,1406.10 812.36,1408.59 814.00,1406.10 815.63,1408.59 817.26,1406.10 818.89,1408.59 820.52,1406.10 822.15,1408.59 823.78,1406.10 825.42,1408.59 827.05,1406.10 828.68,1408.59 830.31,1406.10 831.94,1408.59 833.57,1406.10 835.20,1408.59 836.84,1406.10 838.47,1408.59 840.10,1406.10 841.73,1408.59 843.36,1406.10 844.99,1408.59 846.62,1406.10 848.25,1408.59 849.89,1406.10 851.52,1408.59 853.15,1406.10 854.78,1408.59 856.41,1406.10 858.04,1408.59 859.67,1406.10 861.31,1408.59 862.94,1406.10 864.57,1408.59 866.20,1406.10 867.83,1408.59 869.46,1406.10 871.09,1408.59 872.73,1406.10 874.36,1408.59 875.99,1406.10 877.62,1408.59 879.25,1406.10 880.88,1408.59 882.51,1406.10 884.14,1408.59 885.78,1406.10 887.41,1408.59 889.04,1406.10 890.67,1408.59 892.30,1406.10 893.93,1408.59 895.56,1406.10 897.20,1408.59 898.83,1406.10 900.46,1408.59 902.09,1406.10 903.72,1408.59 905.35,1406.10 906.98,1408.59 908.62,1406.10 910.25,1408.59 911.88,1406.10 913.51,1408.59 915.14,1406.10 916.77,1408.59 918.40,1406.10 920.03,1408.59 921.67,1406.10 923.30,1408.59 924.93,1406.10 926.56,1408.59 928.19,1406.10 929.82,1408.59 931.45,1406.10 933.09,1408.59 934.72,1406.10 936.35,1408.59 937.98,1406.10 939.61,1408.59 941.24,1406.10 942.87,1408.59 944.51,1406.10 946.14,1408.59 947.77,1406.10 949.40,1408.59 951.03,1406.10 952.66,1408.59 954.29,1406.10 955.92,1408.59 957.56,1406.10 959.19,1408.59 960.82,1406.10 962.45,1408.59 964.08,1406.10 965.71,1408.59 967.34,1406.10 968.98,1408.59 970.61,1406.10 972.24,1408.59 973.87,1406.10 975.50,1408.59 977.13,1406.10 978.76,1408.59 980.39,1406.10 982.03,1408.59 983.66,1406.10 985.29,1408.59 986.92,1406.10 988.55,1408.59 990.18,1406.10 991.81,1408.59 993.45,1406.10 995.08,1408.59 996.71,1406.10 998.34,1408.59 999.97,1406.10 1001.60,1408.59 1003.23,1406.10 1004.87,1408.59 1006.50,1406.10 1008.13,1408.59 1009.76,1406.10 1011.39,1408.59 1013.02,1406.10 1014.65,1408.59 1016.28,1406.10 1017.92,1408.59 1019.55,1406.10 1021.18,1408.59 1022.81,1406.10 1024.44,1408.59 1026.07,1406.10 1027.70,1408.59 1029.34,1406.10 1030.97,1408.59 1032.60,1406.10 1034.23,1408.59 1035.86,1406.10 1037.49,1408.59 1039.12,1406.10 1040.76,1408.59 1042.39,1406.10 1044.02,1408.59 1045.65,1406.10 1047.28,1408.59 1048.91,1406.10 1050.54,1408.59 1052.17,1406.10 1053.81,1408.59 1055.44,1406.10 1057.07,1408.59 1058.70,1406.10 1060.33,1408.59 1061.96,1406.10 1063.59,1408.59 1065.23,1406.10 1066.86,1408.59 1068.49,1406.10 1070.12,1408.59 1071.75,1406.10 1073.38,1408.59 1075.01,1406.10 1076.65,1408.59 1078.28,1406.10 1079.91,1408.59 1081.54,1406.10 1083.17,1408.59 1084.80,1406.10 1086.43,1408.59 1088.06,1406.10 1089.70,1408.59 1091.33,1406.10 1092.96,1408.59 1094.59,1406.10 1096.22,1408.59 1097.85,1406.10 1099.48,1408.59 1101.12,1406.10 1102.75,1408.59 1104.38,1406.10 1106.01,1408.59 1107.64,1406.10 1109.27,1408.59 1110.90,1406.10 1112.54,1408.59 1114.17,1406.10 1115.80,1408.59 1117.43,1406.10 1119.06,1408.59 1120.69,1406.10 1122.32,1408.59 1123.95,1406.10 1125.59,1408.59 1127.22,1406.10 1128.85,1408.59 1130.48,1406.10 1132.11,1408.59 1133.74,1406.10 1135.37,1408.59 1137.01,1406.10 1138.64,1408.59 1140.27,1406.10 1141.90,1408.59 1143.53,1406.10 1145.16,1408.59 1146.79,1406.10 1148.43,1408.59 1150.06,1406.10 1151.69,1408.59 1153.32,1406.10 1154.95,1408.59 1156.58,1406.10 1158.21,1408.59 1159.84,1406.10 1161.48,1408.59 1163.11,1406.10 1164.74,1408.59 1166.37,1406.10 1168.00,1408.59 1169.63,1406.10 1171.26,1408.59 1172.90,1406.10 1174.53,1408.59 1176.16,1406.10 1177.79,1408.59 1179.42,1406.10 1181.05,1408.59 1182.68,1406.10 1184.32,1408.59 1185.95,1406.10 1187.58,1408.59 1189.21,1406.10 1190.84,1408.59 1192.47,1406.10 1194.10,1408.59 1195.73,1406.10 1197.37,1408.59 1199.00,1406.10 1200.63,1408.59 1202.26,1406.10 1203.89,1408.59 1205.52,1406.10 1207.15,1408.59 1208.79,1406.10 1210.42,1408.59 1212.05,1406.10 1213.68,1408.59 1215.31,1406.10 1216.94,1408.59 1218.57,1406.10 1220.21,1408.59 1221.84,1406.10 1223.47,1408.59 1225.10,1406.10 1226.73,1408.59 1228.36,1406.10 1229.99,1408.59 1231.62,1406.10 1233.26,1408.59 1234.89,1406.10 1236.52,1408.59 1238.15,1406.10 1239.78,1408.59 1241.41,1406.10 1243.04,1408.59 1244.68,1406.10 1246.31,1408.59 1247.94,1406.10 1249.57,1408.59 1251.20,1406.10 1252.83,1408.59 1254.46,1406.10 1256.10,1408.59 1257.73,1406.10 1259.36,1408.59 1260.99,1406.10 1262.62,1408.59 1264.25,1406.10 1265.88,1408.59 1267.51,1406.10 1269.15,1408.59 1270.78,1406.10 1272.41,1408.59 1274.04,1406.10 1275.67,1408.59 1277.30,1406.10 1278.93,1408.59 1280.57,1406.10 1282.20,1408.59 1283.83,1406.10 1285.46,1408.59 1287.09,1406.10 1288.72,1408.59 1290.35,1406.10 1291.99,1408.59 1293.62,1406.10 1295.25,1408.59 1296.88,1406.10 1298.51,1408.59 1300.14,1406.10 1301.77,1408.59 1303.40,1406.10 1305.04,1408.59 1306.67,1406.10 1308.30,1408.59 1309.93,1406.10 1311.56,1408.59 1313.19,1406.10 1314.82,1408.59 1316.46,1406.10 1318.09,1408.59 1319.72,1406.10 1321.35,1408.59 1322.98,1406.10 1324.61,1408.59 1326.24,1406.10 1327.88,1408.59 1329.51,1406.10 1331.14,1408.59 1332.77,1406.10 1334.40,1408.59 1336.03,1406.10 1337.66,1408.59 1339.29,1406.10 1340.93,1408.59 1342.56,1406.10 1344.19,1408.59 1345.82,1406.10 1347.45,1408.59 1349.08,1406.10 1350.71,1408.59 1352.35,1406.10 1353.98,1408.59 1355.61,1406.10 1357.24,1408.59 1358.87,1406.10 1360.50,1408.59 1362.13,1406.10 1363.77,1408.59 1365.40,1406.10 1367.03,1408.59 1368.66,1406.10 1370.29,1408.59 1371.92,1406.10 1373.55,1408.59 1375.18,1406.10 1376.82,1408.59 1378.45,1406.10 1380.08,1408.59 1381.71,1406.10 1383.34,1408.59 1384.97,1406.10 1386.60,1408.59 1388.24,1406.10 1389.87,1408.59 1391.50,1406.10 1393.13,1408.59 1394.76,1406.10 1396.39,1408.59 1398.02,1406.10 1399.66,1408.59 1401.29,1406.10 1402.92,1408.59 1404.55,1406.10 1406.18,1408.59 1407.81,1406.10 1409.44,1408.59 1411.07,1406.10 1412.71,1408.59 1414.34,1406.10 1415.97,1408.59 1417.60,1406.10 1419.23,1408.59 1420.86,1406.10 1422.49,1408.59 1424.13,1406.10 1425.76,1408.59 1427.39,1406.10 1429.02,1408.59 1430.65,1406.10 1432.28,1408.59 1433.91,1406.10 1435.55,1408.59 1437.18,1406.10 1438.81,1408.59 1440.44,1406.10 1442.07,1408.59 1443.70,1406.10 1445.33,1408.59 1446.96,1406.10 1448.60,1408.59 1450.23,1406.10 1451.86,1408.59 1453.49,1406.10 1455.12,1408.59 1456.75,1406.10 1458.38,1408.59 1460.02,1406.10 1461.65,1408.59 1463.28,1406.10 1464.91,1408.59 1466.54,1406.10 1468.17,1408.59 1469.80,1406.10 1471.44,1408.59 1473.07,1406.10 1474.70,1408.59 1476.33,1406.10 1477.96,1408.59 1479.59,1406.10 1481.22,1408.59 1482.85,1406.10 1484.49,1408.59 1486.12,1406.10 1487.75,1408.59 1489.38,1406.10 1491.01,1408.59 1492.64,1406.10 1494.27,1408.59 1495.91,1406.10 1497.54,1408.59 1499.17,1406.10 1500.80,1408.59 1502.43,1406.10 1504.06,1408.59 1505.69,1406.10 1507.33,1408.59 1508.96,1406.10 1510.59,1408.59 1512.22,1406.10 1513.85,1408.59 1515.48,1406.10 1517.11,1408.59 1518.74,1406.10 1520.38,1408.59 1522.01,1406.10 1523.64,1408.59 1525.27,1406.10 1526.90,1408.59 1528.53,1406.10 1530.16,1408.59 1531.80,1406.10 1533.43,1408.59 1535.06,1406.10 1536.69,1408.59 1538.32,1406.10 1539.95,1408.59 1541.58,1406.10 1543.22,1408.59 1544.85,1406.10 1546.48,1408.59 1548.11,1406.10 1549.74,1408.59 1551.37,1406.10 1553.00,1408.59 1554.63,1406.10 1556.27,1408.59 1557.90,1406.10 1559.53,1408.59 1561.16,1406.10 1562.79,1408.59 1564.42,1406.10 1566.05,1408.59 1567.69,1406.10 1569.32,1408.59 1570.95,1406.10 1572.58,1408.59 1574.21,1406.10 1575.84,1408.59 1577.47,1406.10 1579.11,1408.59 1580.74,1406.10 1582.37,1408.59 1584.00,1406.10 1585.63,1408.59 1587.26,1406.10 1588.89,1408.59 1590.52,1406.10 1592.16,1408.59 1593.79,1406.10 1595.42,1408.59 1597.05,1406.10 1598.68,1408.59 1600.31,1406.10 1601.94,1408.59 1603.58,1406.10 1605.21,1408.59 1606.84,1406.10 1608.47,1408.59 1610.10,1406.10 1611.73,1408.59 1613.36,1406.10 1615.00,1408.59 1616.63,1406.10 1618.26,1408.59 1619.89,1406.10 1621.52,1408.59 1623.15,1406.10 1624.78,1408.59 1626.41,1406.10 1628.05,1408.59 1629.68,1406.10 1631.31,1408.59 1632.94,1406.10 1634.57,1408.59 1636.20,1406.10 1637.83,1408.59 1639.47,1406.10 1641.10,1408.59 1642.73,1406.10 1644.36,1408.59 1645.99,1406.10 1647.62,1408.59 1649.25,1406.10 1650.89,1408.59 1652.52,1406.10 1654.15,1408.59 1655.78,1406.10 1657.41,1408.59 1659.04,1406.10 1660.67,1408.59 1662.30,1406.10 1663.94,1408.59 1665.57,1406.10 1667.20,1408.59 1668.83,1406.10 1670.46,1408.59 1672.09,1406.10 1673.72,1408.59 1675.36,1406.10 1676.99,1408.59 1678.62,1406.10 1680.25,1408.59 1681.88,1406.10 1683.51,1408.59 1685.14,1406.10 1686.78,1408.59 1688.41,1406.10 1690.04,1408.59 1691.67,1406.10 1693.30,1408.59 1694.93,1406.10 1696.56,1408.59 1698.19,1406.10 1699.83,1408.59 1701.46,1406.10 1703.09,1408.59 1704.72,1406.10 1706.35,1408.59 1707.98,1406.10 1709.61,1408.59 1711.25,1406.10 1712.88,1408.59 1714.51,1406.10 1716.14,1408.59 1717.77,1406.10 1719.40,1408.59 1721.03,1406.10 1722.67,1408.59 1724.30,1406.10 1725.93,1408.59 1727.56,1406.10 1729.19,1408.59 1730.82,1406.10 1732.45,1408.59 1734.08,1406.10 1735.72,1408.59 1737.35,1406.10 1738.98,1408.59 1740.61,1406.10 1742.24,1408.59 1743.87,1406.10 1745.50,1408.59 1747.14,1406.10 1748.77,1408.59 1750.40,1406.10 1752.03,1408.59 1753.66,1406.10 1755.29,1408.59 1756.92,1406.10 1758.56,1408.59 1760.19,1406.10 1761.82,1408.59 1763.45,1406.10 1765.08,1408.59 1766.71,1406.10 1768.34,1408.59 1769.97,1406.10 1771.61,1408.59 1773.24,1406.10 1774.87,1408.59 1776.50,1406.10 1795.20,1434.65 1776.50,1463.20 1774.87,1460.71 1773.24,1463.20 1771.61,1460.71 1769.97,1463.20 1768.34,1460.71 1766.71,1463.20 1765.08,1460.71 1763.45,1463.20 1761.82,1460.71 1760.19,1463.20 1758.56,1460.71 1756.92,1463.20 1755.29,1460.71 1753.66,1463.20 1752.03,1460.71 1750.40,1463.20 1748.77,1460.71 1747.14,1463.20 1745.50,1460.71 1743.87,1463.20 1742.24,1460.71 1740.61,1463.20 1738.98,1460.71 1737.35,1463.20 1735.72,1460.71 1734.08,1463.20 1732.45,1460.71 1730.82,1463.20 1729.19,1460.71 1727.56,1463.20 1725.93,1460.71 1724.30,1463.20 1722.67,1460.71 1721.03,1463.20 1719.40,1460.71 1717.77,1463.20 1716.14,1460.71 1714.51,1463.20 1712.88,1460.71 1711.25,1463.20 1709.61,1460.71 1707.98,1463.20 1706.35,1460.71 1704.72,1463.20 1703.09,1460.71 1701.46,1463.20 1699.83,1460.71 1698.19,1463.20 1696.56,1460.71 1694.93,1463.20 1693.30,1460.71 1691.67,1463.20 1690.04,1460.71 1688.41,1463.20 1686.78,1460.71 1685.14,1463.20 1683.51,1460.71 1681.88,1463.20 1680.25,1460.71 1678.62,1463.20 1676.99,1460.71 1675.36,1463.20 1673.72,1460.71 1672.09,1463.20 1670.46,1460.71 1668.83,1463.20 1667.20,1460.71 1665.57,1463.20 1663.94,1460.71 1662.30,1463.20 1660.67,1460.71 1659.04,1463.20 1657.41,1460.71 1655.78,1463.20 1654.15,1460.71 1652.52,1463.20 1650.89,1460.71 1649.25,1463.20 1647.62,1460.71 1645.99,1463.20 1644.36,1460.71 1642.73,1463.20 1641.10,1460.71 1639.47,1463.20 1637.83,1460.71 1636.20,1463.20 1634.57,1460.71 1632.94,1463.20 1631.31,1460.71 1629.68,1463.20 1628.05,1460.71 1626.41,1463.20 1624.78,1460.71 1623.15,1463.20 1621.52,1460.71 1619.89,1463.20 1618.26,1460.71 1616.63,1463.20 1615.00,1460.71 1613.36,1463.20 1611.73,1460.71 1610.10,1463.20 1608.47,1460.71 1606.84,1463.20 1605.21,1460.71 1603.58,1463.20 1601.94,1460.71 1600.31,1463.20 1598.68,1460.71 1597.05,1463.20 1595.42,1460.71 1593.79,1463.20 1592.16,1460.71 1590.52,1463.20 1588.89,1460.71 1587.26,1463.20 1585.63,1460.71 1584.00,1463.20 1582.37,1460.71 1580.74,1463.20 1579.11,1460.71 1577.47,1463.20 1575.84,1460.71 1574.21,1463.20 1572.58,1460.71 1570.95,1463.20 1569.32,1460.71 1567.69,1463.20 1566.05,1460.71 1564.42,1463.20 1562.79,1460.71 1561.16,1463.20 1559.53,1460.71 1557.90,1463.20 1556.27,1460.71 1554.63,1463.20 1553.00,1460.71 1551.37,1463.20 1549.74,1460.71 1548.11,1463.20 1546.48,1460.71 1544.85,1463.20 1543.22,1460.71 1541.58,1463.20 1539.95,1460.71 1538.32,1463.20 1536.69,1460.71 1535.06,1463.20 1533.43,1460.71 1531.80,1463.20 1530.16,1460.71 1528.53,1463.20 1526.90,1460.71 1525.27,1463.20 1523.64,1460.71 1522.01,1463.20 1520.38,1460.71 1518.74,1463.20 1517.11,1460.71 1515.48,1463.20 1513.85,1460.71 1512.22,1463.20 1510.59,1460.71 1508.96,1463.20 1507.33,1460.71 1505.69,1463.20 1504.06,1460.71 1502.43,1463.20 1500.80,1460.71 1499.17,1463.20 1497.54,1460.71 1495.91,1463.20 1494.27,1460.71 1492.64,1463.20 1491.01,1460.71 1489.38,1463.20 1487.75,1460.71 1486.12,1463.20 1484.49,1460.71 1482.85,1463.20 1481.22,1460.71 1479.59,1463.20 1477.96,1460.71 1476.33,1463.20 1474.70,1460.71 1473.07,1463.20 1471.44,1460.71 1469.80,1463.20 1468.17,1460.71 1466.54,1463.20 1464.91,1460.71 1463.28,1463.20 1461.65,1460.71 1460.02,1463.20 1458.38,1460.71 1456.75,1463.20 1455.12,1460.71 1453.49,1463.20 1451.86,1460.71 1450.23,1463.20 1448.60,1460.71 1446.96,1463.20 1445.33,1460.71 1443.70,1463.20 1442.07,1460.71 1440.44,1463.20 1438.81,1460.71 1437.18,1463.20 1435.55,1460.71 1433.91,1463.20 1432.28,1460.71 1430.65,1463.20 1429.02,1460.71 1427.39,1463.20 1425.76,1460.71 1424.13,1463.20 1422.49,1460.71 1420.86,1463.20 1419.23,1460.71 1417.60,1463.20 1415.97,1460.71 1414.34,1463.20 1412.71,1460.71 1411.07,1463.20 1409.44,1460.71 1407.81,1463.20 1406.18,1460.71 1404.55,1463.20 1402.92,1460.71 1401.29,1463.20 1399.66,1460.71 1398.02,1463.20 1396.39,1460.71 1394.76,1463.20 1393.13,1460.71 1391.50,1463.20 1389.87,1460.71 1388.24,1463.20 1386.60,1460.71 1384.97,1463.20 1383.34,1460.71 1381.71,1463.20 1380.08,1460.71 1378.45,1463.20 1376.82,1460.71 1375.18,1463.20 1373.55,1460.71 1371.92,1463.20 1370.29,1460.71 1368.66,1463.20 1367.03,1460.71 1365.40,1463.20 1363.77,1460.71 1362.13,1463.20 1360.50,1460.71 1358.87,1463.20 1357.24,1460.71 1355.61,1463.20 1353.98,1460.71 1352.35,1463.20 1350.71,1460.71 1349.08,1463.20 1347.45,1460.71 1345.82,1463.20 1344.19,1460.71 1342.56,1463.20 1340.93,1460.71 1339.29,1463.20 1337.66,1460.71 1336.03,1463.20 1334.40,1460.71 1332.77,1463.20 1331.14,1460.71 1329.51,1463.20 1327.88,1460.71 1326.24,1463.20 1324.61,1460.71 1322.98,1463.20 1321.35,1460.71 1319.72,1463.20 1318.09,1460.71 1316.46,1463.20 1314.82,1460.71 1313.19,1463.20 1311.56,1460.71 1309.93,1463.20 1308.30,1460.71 1306.67,1463.20 1305.04,1460.71 1303.40,1463.20 1301.77,1460.71 1300.14,1463.20 1298.51,1460.71 1296.88,1463.20 1295.25,1460.71 1293.62,1463.20 1291.99,1460.71 1290.35,1463.20 1288.72,1460.71 1287.09,1463.20 1285.46,1460.71 1283.83,1463.20 1282.20,1460.71 1280.57,1463.20 1278.93,1460.71 1277.30,1463.20 1275.67,1460.71 1274.04,1463.20 1272.41,1460.71 1270.78,1463.20 1269.15,1460.71 1267.51,1463.20 1265.88,1460.71 1264.25,1463.20 1262.62,1460.71 1260.99,1463.20 1259.36,1460.71 1257.73,1463.20 1256.10,1460.71 1254.46,1463.20 1252.83,1460.71 1251.20,1463.20 1249.57,1460.71 1247.94,1463.20 1246.31,1460.71 1244.68,1463.20 1243.04,1460.71 1241.41,1463.20 1239.78,1460.71 1238.15,1463.20 1236.52,1460.71 1234.89,1463.20 1233.26,1460.71 1231.62,1463.20 1229.99,1460.71 1228.36,1463.20 1226.73,1460.71 1225.10,1463.20 1223.47,1460.71 1221.84,1463.20 1220.21,1460.71 1218.57,1463.20 1216.94,1460.71 1215.31,1463.20 1213.68,1460.71 1212.05,1463.20 1210.42,1460.71 1208.79,1463.20 1207.15,1460.71 1205.52,1463.20 1203.89,1460.71 1202.26,1463.20 1200.63,1460.71 1199.00,1463.20 1197.37,1460.71 1195.73,1463.20 1194.10,1460.71 1192.47,1463.20 1190.84,1460.71 1189.21,1463.20 1187.58,1460.71 1185.95,1463.20 1184.32,1460.71 1182.68,1463.20 1181.05,1460.71 1179.42,1463.20 1177.79,1460.71 1176.16,1463.20 1174.53,1460.71 1172.90,1463.20 1171.26,1460.71 1169.63,1463.20 1168.00,1460.71 1166.37,1463.20 1164.74,1460.71 1163.11,1463.20 1161.48,1460.71 1159.84,1463.20 1158.21,1460.71 1156.58,1463.20 1154.95,1460.71 1153.32,1463.20 1151.69,1460.71 1150.06,1463.20 1148.43,1460.71 1146.79,1463.20 1145.16,1460.71 1143.53,1463.20 1141.90,1460.71 1140.27,1463.20 1138.64,1460.71 1137.01,1463.20 1135.37,1460.71 1133.74,1463.20 1132.11,1460.71 1130.48,1463.20 1128.85,1460.71 1127.22,1463.20 1125.59,1460.71 1123.95,1463.20 1122.32,1460.71 1120.69,1463.20 1119.06,1460.71 1117.43,1463.20 1115.80,1460.71 1114.17,1463.20 1112.54,1460.71 1110.90,1463.20 1109.27,1460.71 1107.64,1463.20 1106.01,1460.71 1104.38,1463.20 1102.75,1460.71 1101.12,1463.20 1099.48,1460.71 1097.85,1463.20 1096.22,1460.71 1094.59,1463.20 1092.96,1460.71 1091.33,1463.20 1089.70,1460.71 1088.06,1463.20 1086.43,1460.71 1084.80,1463.20 1083.17,1460.71 1081.54,1463.20 1079.91,1460.71 1078.28,1463.20 1076.65,1460.71 1075.01,1463.20 1073.38,1460.71 1071.75,1463.20 1070.12,1460.71 1068.49,1463.20 1066.86,1460.71 1065.23,1463.20 1063.59,1460.71 1061.96,1463.20 1060.33,1460.71 1058.70,1463.20 1057.07,1460.71 1055.44,1463.20 1053.81,1460.71 1052.17,1463.20 1050.54,1460.71 1048.91,1463.20 1047.28,1460.71 1045.65,1463.20 1044.02,1460.71 1042.39,1463.20 1040.76,1460.71 1039.12,1463.20 1037.49,1460.71 1035.86,1463.20 1034.23,1460.71 1032.60,1463.20 1030.97,1460.71 1029.34,1463.20 1027.70,1460.71 1026.07,1463.20 1024.44,1460.71 1022.81,1463.20 1021.18,1460.71 1019.55,1463.20 1017.92,1460.71 1016.28,1463.20 1014.65,1460.71 1013.02,1463.20 1011.39,1460.71 1009.76,1463.20 1008.13,1460.71 1006.50,1463.20 1004.87,1460.71 1003.23,1463.20 1001.60,1460.71 999.97,1463.20 998.34,1460.71 996.71,1463.20 995.08,1460.71 993.45,1463.20 991.81,1460.71 990.18,1463.20 988.55,1460.71 986.92,1463.20 985.29,1460.71 983.66,1463.20 982.03,1460.71 980.39,1463.20 978.76,1460.71 977.13,1463.20 975.50,1460.71 973.87,1463.20 972.24,1460.71 970.61,1463.20 968.98,1460.71 967.34,1463.20 965.71,1460.71 964.08,1463.20 962.45,1460.71 960.82,1463.20 959.19,1460.71 957.56,1463.20 955.92,1460.71 954.29,1463.20 952.66,1460.71 951.03,1463.20 949.40,1460.71 947.77,1463.20 946.14,1460.71 944.51,1463.20 942.87,1460.71 941.24,1463.20 939.61,1460.71 937.98,1463.20 936.35,1460.71 934.72,1463.20 933.09,1460.71 931.45,1463.20 929.82,1460.71 928.19,1463.20 926.56,1460.71 924.93,1463.20 923.30,1460.71 921.67,1463.20 920.03,1460.71 918.40,1463.20 916.77,1460.71 915.14,1463.20 913.51,1460.71 911.88,1463.20 910.25,1460.71 908.62,1463.20 906.98,1460.71 905.35,1463.20 903.72,1460.71 902.09,1463.20 900.46,1460.71 898.83,1463.20 897.20,1460.71 895.56,1463.20 893.93,1460.71 892.30,1463.20 890.67,1460.71 889.04,1463.20 887.41,1460.71 885.78,1463.20 884.14,1460.71 882.51,1463.20 880.88,1460.71 879.25,1463.20 877.62,1460.71 875.99,1463.20 874.36,1460.71 872.73,1463.20 871.09,1460.71 869.46,1463.20 867.83,1460.71 866.20,1463.20 864.57,1460.71 862.94,1463.20 861.31,1460.71 859.67,1463.20 858.04,1460.71 856.41,1463.20 854.78,1460.71 853.15,1463.20 851.52,1460.71 849.89,1463.20 848.25,1460.71 846.62,1463.20 844.99,1460.71 843.36,1463.20 841.73,1460.71 840.10,1463.20 838.47,1460.71 836.84,1463.20 835.20,1460.71 833.57,1463.20 831.94,1460.71 830.31,1463.20 828.68,1460.71 827.05,1463.20 825.42,1460.71 823.78,1463.20 822.15,1460.71 820.52,1463.20 818.89,1460.71 817.26,1463.20 815.63,1460.71 814.00,1463.20 812.36,1460.71 810.73,1463.20 809.10,1460.71 807.47,1463.20 805.84,1460.71 804.21,1463.20 802.58,1460.71 800.95,1463.20 799.31,1460.71 797.68,1463.20 796.05,1460.71 794.42,1463.20 792.79,1460.71 791.16,1463.20 789.53,1460.71 787.89,1463.20 786.26,1460.71 784.63,1463.20 783.00,1460.71 781.37,1463.20 779.74,1460.71 778.11,1463.20 776.47,1460.71 774.84,1463.20 773.21,1460.71 771.58,1463.20 769.95,1460.71 768.32,1463.20 766.69,1460.71 765.06,1463.20 763.42,1460.71 761.79,1463.20 760.16,1460.71 758.53,1463.20 756.90,1460.71 755.27,1463.20 753.64,1460.71 752.00,1463.20 750.37,1460.71 748.74,1463.20 747.11,1460.71 745.48,1463.20 743.85,1460.71 742.22,1463.20 740.58,1460.71 738.95,1463.20 737.32,1460.71 735.69,1463.20 734.06,1460.71 732.43,1463.20 730.80,1460.71 729.17,1463.20 727.53,1460.71 725.90,1463.20 724.27,1460.71 722.64,1463.20 721.01,1460.71 719.38,1463.20 717.75,1460.71 716.11,1463.20 714.48,1460.71 712.85,1463.20 711.22,1460.71 709.59,1463.20 707.96,1460.71 706.33,1463.20 704.69,1460.71 703.06,1463.20 701.43,1460.71 699.80,1463.20 698.17,1460.71 696.54,1463.20 694.91,1460.71 693.28,1463.20 691.64,1460.71 690.01,1463.20 688.38,1460.71 686.75,1463.20 685.12,1460.71 683.49,1463.20 681.86,1460.71 680.22,1463.20 678.59,1460.71 676.96,1463.20 675.33,1460.71 673.70,1463.20 672.07,1460.71 670.44,1463.20 668.80,1460.71 667.17,1463.20 665.54,1460.71 663.91,1463.20 662.28,1460.71 660.65,1463.20 659.02,1460.71 657.39,1463.20 655.75,1460.71 654.12,1463.20 652.49,1460.71 650.86,1463.20 649.23,1460.71 647.60,1463.20 645.97,1460.71 644.33,1463.20 642.70,1460.71 641.07,1463.20 639.44,1460.71 637.81,1463.20 636.18,1460.71 634.55,1463.20 632.91,1460.71 631.28,1463.20 629.65,1460.71 628.02,1463.20 626.39,1460.71 624.76,1463.20 623.13,1460.71 621.50,1463.20 619.86,1460.71 618.23,1463.20 616.60,1460.71 614.97,1463.20 613.34,1460.71 611.71,1463.20 610.08,1460.71 608.44,1463.20 606.81,1460.71 605.18,1463.20 603.55,1460.71 601.92,1463.20 600.29,1460.71 598.66,1463.20 597.02,1460.71 595.39,1463.20 593.76,1460.71 592.13,1463.20 590.50,1460.71 588.87,1463.20 587.24,1460.71 585.61,1463.20 583.97,1460.71 582.34,1463.20 580.71,1460.71 579.08,1463.20 577.45,1460.71 575.82,1463.20 574.19,1460.71 572.55,1463.20 570.92,1460.71 569.29,1463.20 567.66,1460.71 566.03,1463.20 564.40,1460.71 562.77,1463.20 561.13,1460.71 559.50,1463.20 557.87,1460.71 556.24,1463.20 554.61,1460.71 552.98,1463.20 551.35,1460.71 549.72,1463.20 548.08,1460.71 546.45,1463.20 544.82,1460.71 543.19,1463.20 541.56,1460.71 539.93,1463.20 538.30,1460.71 536.66,1463.20 535.03,1460.71 533.40,1463.20 531.77,1460.71 530.14,1463.20 528.51,1460.71 526.88,1463.20 525.24,1460.71 523.61,1463.20 521.98,1460.71 520.35,1463.20 518.72,1460.71 517.09,1463.20 515.46,1460.71 513.83,1463.20 512.19,1460.71 510.56,1463.20 508.93,1460.71 507.30,1463.20 505.67,1460.71 504.04,1463.20 502.41,1460.71 500.77,1463.20 499.14,1460.71 497.51,1463.20 495.88,1460.71 494.25,1463.20 492.62,1460.71 490.99,1463.20 489.35,1460.71 487.72,1463.20 486.09,1460.71 484.46,1463.20 482.83,1460.71 481.20,1463.20 479.57,1460.71 477.94,1463.20 476.30,1460.71 474.67,1463.20 473.04,1460.71 471.41,1463.20 469.78,1460.71 468.15,1463.20 466.52,1460.71 464.88,1463.20 463.25,1460.71 461.62,1463.20 459.99,1460.71 458.36,1463.20 456.73,1460.71 455.10,1463.20 453.46,1460.71 451.83,1463.20 450.20,1460.71 448.57,1463.20 446.94,1460.71 445.31,1463.20 443.68,1460.71 442.05,1463.20 440.41,1460.71 438.78,1463.20 437.15,1460.71 435.52,1463.20 433.89,1460.71 432.26,1463.20 430.63,1460.71 428.99,1463.20 427.36,1460.71 425.73,1463.20 424.10,1460.71 422.47,1463.20 420.84,1460.71 419.21,1463.20 417.57,1460.71 415.94,1463.20 414.31,1460.71 412.68,1463.20 411.05,1460.71 409.42,1463.20 407.79,1460.71 406.16,1463.20 404.52,1460.71 402.89,1463.20 401.26,1460.71 399.63,1463.20 398.00,1460.71 396.37,1463.20 394.74,1460.71 393.10,1463.20 391.47,1460.71 389.84,1463.20 388.21,1460.71 386.58,1463.20 384.95,1460.71 383.32,1463.20 381.68,1460.71 380.05,1463.20 378.42,1460.71 376.79,1463.20 375.16,1460.71 373.53,1463.20 371.90,1460.71 370.27,1463.20 368.63,1460.71 367.00,1463.20 365.37,1460.71 363.74,1463.20 362.11,1460.71 360.48,1463.20 358.85,1460.71 357.21,1463.20 355.58,1460.71 353.95,1463.20 352.32,1460.71 350.69,1463.20 349.06,1460.71 347.43,1463.20 345.79,1460.71 344.16,1463.20 342.53,1460.71 340.90,1463.20 339.27,1460.71 337.64,1463.20 336.01,1460.71 334.38,1463.20 332.74,1460.71 331.11,1463.20 329.48,1460.71 327.85,1463.20 326.22,1460.71 324.59,1463.20 322.96,1460.71 321.32,1463.20 319.69,1460.71 318.06,1463.20 316.43,1460.71 314.80,1463.20 313.17,1460.71 311.54,1463.20 309.90,1460.71 308.27,1463.20 306.64,1460.71 305.01,1463.20 303.38,1460.71 301.75,1463.20 300.12,1460.71 298.49,1463.20 296.85,1460.71 295.22,1463.20 293.59,1460.71 291.96,1463.20 290.33,1460.71 288.70,1463.20 287.07,1460.71 285.43,1463.20 283.80,1460.71 282.17,1463.20 280.54,1460.71 278.91,1463.20 277.28,1460.71 275.65,1463.20 274.01,1460.71 272.38,1463.20 270.75,1460.71 269.12,1463.20 267.49,1460.71 265.86,1463.20 264.23,1460.71 262.60,1463.20 260.96,1460.71 259.33,1463.20 257.70,1460.71 256.07,1463.20 254.44,1460.71 252.81,1463.20 251.18,1460.71 249.54,1463.20 247.91,1460.71 246.28,1463.20 244.65,1460.71 243.02,1463.20 241.39,1460.71 239.76,1463.20 238.12,1460.71 236.49,1463.20 234.86,1460.71 233.23,1463.20 231.60,1460.71 229.97,1463.20 228.34,1460.71 226.71,1463.20 225.07,1460.71 223.44,1463.20 221.81,1460.71 220.18,1463.20 218.55,1460.71 216.92,1463.20 215.29,1460.71 213.65,1463.20 212.02,1460.71 210.39,1463.20 208.76,1460.71 207.13,1463.20 205.50,1460.71 203.87,1463.20 202.23,1460.71 200.60,1463.20 198.97,1460.71 197.34,1463.20 195.71,1460.71 194.08,1463.20 192.45,1460.71 190.82,1463.20 189.18,1460.71 187.55,1463.20 185.92,1460.71 184.29,1463.20 182.66,1460.71 181.03,1463.20 179.40,1460.71 177.76,1463.20 176.13,1460.71 174.50,1463.20 172.87,1460.71 171.24,1463.20 169.61,1460.71 167.98,1463.20 166.34,1460.71 164.71,1463.20 163.08,1460.71 161.45,1463.20 159.82,1460.71 158.19,1463.20 156.56,1460.71 154.93,1463.20 153.29,1460.71 151.66,1463.20 150.03,1460.71 148.40,1463.20" fill="#0072BD"/>
<polygon points="1765.55,1434.65 1776.60,1417.99 1787.65,1434.65 1776.60,1451.31" fill="#FF0000"/>
</svg>
</body>
</html>
